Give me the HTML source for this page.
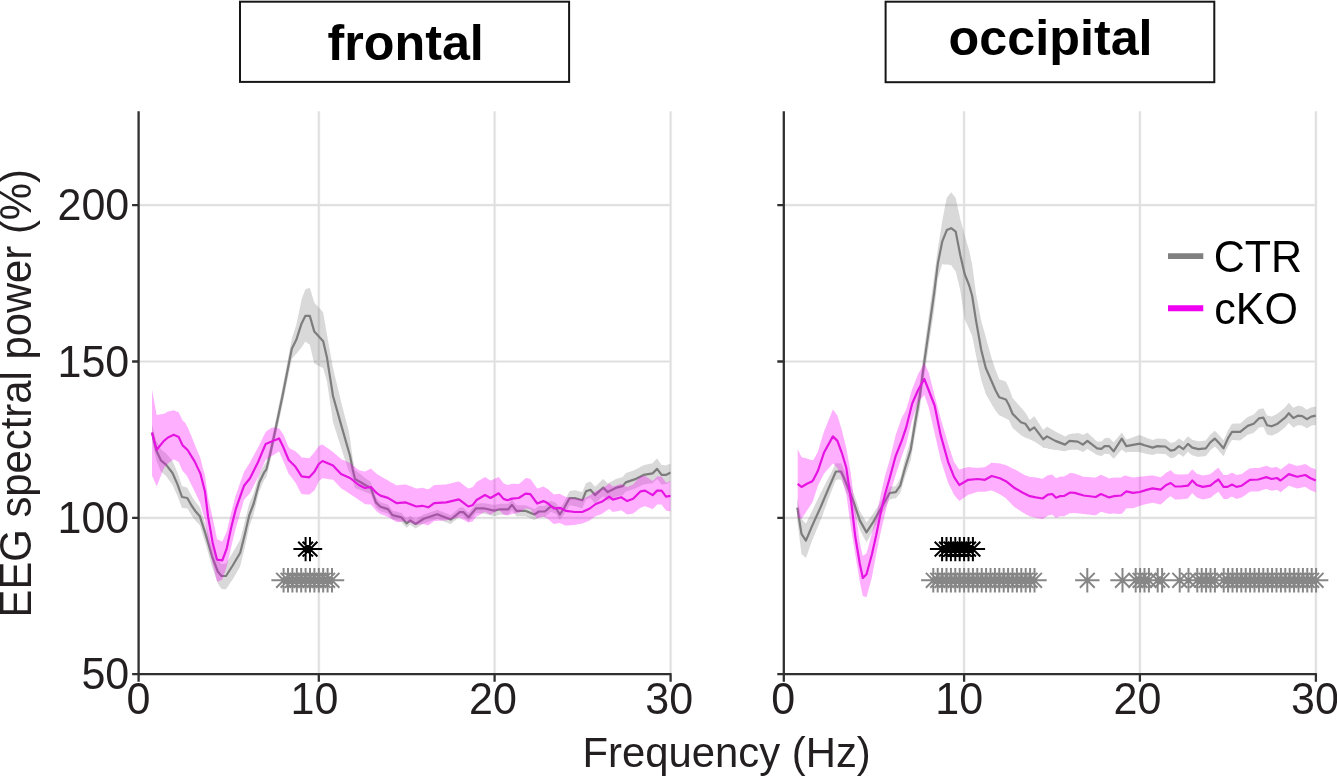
<!DOCTYPE html>
<html><head><meta charset="utf-8"><title>EEG spectral power</title>
<style>
html,body{margin:0;padding:0;background:#fff}
body{width:1337px;height:777px;overflow:hidden}
svg text{font-family:"Liberation Sans",sans-serif;fill:#231f20}
.l{fill:#000}
.b{font-weight:bold;fill:#000}
</style></head><body>
<svg width="1337" height="777" viewBox="0 0 1337 777" style="display:block">
<rect width="1337" height="777" fill="#fff"/>
<path d="M138.6 517.9H670.6M138.6 361.5H670.6M138.6 205.1H670.6M318.8 111.3V674.2M494.6 111.3V674.2M670.6 111.3V674.2" stroke="#000" stroke-opacity="0.04" stroke-width="3.2" fill="none"/>
<path d="M138.6 517.9H670.6M138.6 361.5H670.6M138.6 205.1H670.6M318.8 111.3V674.2M494.6 111.3V674.2M670.6 111.3V674.2" stroke="#000" stroke-opacity="0.09" stroke-width="1.7" fill="none"/>
<path d="M783.8 517.9H1315.9M783.8 361.5H1315.9M783.8 205.1H1315.9M964.1 111.3V674.2M1139.9 111.3V674.2M1315.9 111.3V674.2" stroke="#000" stroke-opacity="0.04" stroke-width="3.2" fill="none"/>
<path d="M783.8 517.9H1315.9M783.8 361.5H1315.9M783.8 205.1H1315.9M964.1 111.3V674.2M1139.9 111.3V674.2M1315.9 111.3V674.2" stroke="#000" stroke-opacity="0.09" stroke-width="1.7" fill="none"/>
<path d="M152.0 424.5 L153.5 430.2 L155.0 435.9 L156.3 440.9 L156.5 441.2 L158.0 443.9 L159.5 446.5 L160.9 449.2 L161.0 449.3 L162.5 450.5 L164.0 451.7 L165.5 452.8 L166.2 453.4 L167.0 454.4 L168.5 456.2 L170.0 458.1 L171.5 459.9 L172.5 461.2 L173.0 462.3 L174.5 465.6 L176.0 469.1 L177.5 472.7 L179.0 477.1 L180.5 481.5 L182.0 485.9 L183.5 486.4 L185.0 486.9 L186.5 487.4 L187.3 487.6 L188.0 489.0 L189.5 491.9 L191.0 494.7 L191.5 495.6 L192.5 497.2 L194.0 499.5 L195.3 501.5 L195.5 501.8 L197.0 503.7 L198.5 505.5 L199.8 507.2 L200.0 507.8 L201.5 512.3 L203.0 516.9 L204.5 521.4 L205.8 525.3 L206.0 526.0 L207.5 531.1 L209.0 536.1 L210.5 541.2 L211.8 545.5 L212.0 546.0 L213.5 549.7 L215.0 553.3 L216.5 557.0 L217.8 560.2 L218.0 560.4 L219.5 562.0 L221.0 563.6 L221.5 564.1 L222.5 564.0 L224.0 563.8 L225.5 563.7 L226.0 563.7 L227.0 562.0 L228.5 559.6 L230.0 557.1 L231.5 554.6 L232.7 552.7 L233.0 552.1 L234.5 549.5 L236.0 546.9 L237.5 544.4 L239.0 541.8 L240.2 539.8 L240.5 538.6 L242.0 532.6 L243.5 526.7 L244.7 521.9 L245.0 520.6 L246.5 514.5 L248.0 508.5 L249.2 503.7 L249.5 503.0 L251.0 499.4 L252.5 495.9 L253.7 493.1 L254.0 492.1 L255.5 486.9 L257.0 481.7 L258.5 476.5 L259.3 473.7 L260.0 472.4 L261.5 469.7 L263.0 467.0 L264.2 464.8 L264.5 464.4 L266.0 462.3 L266.4 461.7 L267.5 457.2 L269.0 451.0 L270.1 446.5 L270.5 444.6 L272.0 437.6 L273.5 430.6 L274.6 425.4 L275.0 423.5 L276.5 416.3 L278.0 409.0 L279.5 401.8 L281.0 394.5 L282.5 387.2 L284.0 379.5 L285.5 371.7 L287.0 363.9 L288.5 356.0 L290.0 348.2 L291.5 340.4 L291.8 338.8 L293.0 335.1 L294.5 330.4 L296.0 325.7 L296.3 324.8 L297.5 319.0 L299.0 311.9 L300.5 304.7 L301.6 299.4 L302.0 298.3 L303.5 294.3 L305.0 290.2 L305.3 289.4 L306.5 288.8 L308.0 288.4 L309.5 288.0 L309.8 287.9 L311.0 291.8 L312.5 296.7 L314.0 301.6 L314.3 302.6 L315.5 303.9 L317.0 305.5 L318.5 307.2 L320.0 308.8 L321.5 310.4 L323.0 312.1 L323.2 312.6 L324.5 320.2 L326.0 329.0 L327.0 334.8 L327.5 337.6 L329.0 345.9 L330.5 354.2 L332.0 362.5 L333.0 368.0 L333.5 370.1 L335.0 376.4 L336.5 382.6 L338.0 388.9 L339.5 395.1 L341.0 401.4 L342.5 407.2 L344.0 413.0 L345.5 418.8 L347.0 424.6 L348.5 430.4 L350.0 438.5 L351.5 450.0 L352.7 458.1 L353.0 459.7 L354.5 467.4 L355.0 470.0 L356.0 470.8 L357.5 472.0 L359.0 473.1 L360.5 474.3 L362.0 475.5 L363.5 476.7 L365.0 477.9 L366.5 479.0 L366.6 479.1 L368.0 480.0 L369.5 481.1 L370.8 482.0 L371.0 482.6 L372.5 487.1 L374.0 491.5 L375.5 496.0 L375.9 497.2 L377.0 498.5 L378.5 500.2 L380.0 501.9 L380.4 502.3 L381.5 502.6 L383.0 503.1 L384.5 503.6 L386.0 504.0 L387.5 504.5 L387.9 504.6 L389.0 506.1 L390.5 508.1 L392.0 510.1 L392.4 510.6 L393.5 510.9 L395.0 511.2 L396.5 511.6 L398.0 512.0 L399.5 512.4 L401.0 512.7 L401.3 512.8 L402.5 514.2 L404.0 515.9 L405.5 517.6 L406.6 518.8 L407.0 518.5 L408.5 517.3 L410.0 516.0 L410.3 515.8 L411.5 516.7 L413.0 517.7 L414.5 518.8 L415.5 519.5 L416.0 519.2 L417.5 518.2 L419.0 517.3 L420.5 516.4 L422.0 515.4 L423.5 514.5 L423.8 514.3 L425.0 513.9 L426.5 513.4 L428.0 512.9 L429.5 512.4 L431.0 511.9 L432.5 511.4 L434.0 510.9 L435.5 510.4 L437.0 509.9 L437.2 509.8 L438.5 510.3 L440.0 510.9 L441.5 511.5 L443.0 512.1 L444.5 512.7 L446.0 513.3 L447.5 513.8 L449.0 514.4 L450.5 515.0 L450.7 515.1 L452.0 514.0 L453.5 512.8 L455.0 511.5 L456.5 510.3 L458.0 509.0 L459.5 507.8 L459.7 507.6 L461.0 507.6 L462.5 507.6 L463.4 507.6 L464.0 508.2 L465.5 509.7 L467.0 511.2 L468.5 512.7 L468.6 512.8 L470.0 511.1 L471.5 509.2 L473.0 507.4 L474.5 505.5 L476.0 503.6 L476.1 503.5 L477.5 503.4 L479.0 503.4 L480.5 503.3 L482.0 503.2 L483.5 503.1 L483.6 503.1 L485.0 503.4 L486.5 503.6 L488.0 503.9 L489.5 504.1 L491.0 504.4 L492.5 504.7 L494.0 505.1 L494.1 505.1 L495.5 504.8 L497.0 504.5 L498.5 504.1 L500.0 503.8 L501.5 503.8 L503.0 503.8 L504.5 503.8 L506.0 503.8 L507.5 503.8 L508.2 503.8 L509.0 502.9 L510.5 501.1 L512.0 499.3 L513.5 501.3 L515.0 503.3 L516.5 505.3 L518.0 505.3 L519.5 505.3 L521.0 505.3 L522.5 505.3 L524.0 505.3 L525.4 505.3 L525.5 505.3 L527.0 506.0 L528.5 506.6 L530.0 507.2 L531.5 507.8 L533.0 508.4 L534.4 509.0 L534.5 508.9 L536.0 507.9 L537.5 506.9 L538.9 506.0 L539.0 506.0 L540.5 506.0 L542.0 506.0 L543.5 506.0 L544.9 506.0 L545.0 505.9 L546.5 504.6 L548.0 503.3 L549.5 502.0 L550.9 500.8 L551.0 500.8 L552.5 501.5 L554.0 502.1 L555.5 502.7 L556.1 503.0 L557.0 504.5 L558.5 506.9 L559.8 509.0 L560.0 508.7 L561.5 506.2 L563.0 503.7 L564.3 501.6 L564.5 501.2 L566.0 498.2 L567.5 495.2 L569.0 492.2 L569.6 491.0 L570.5 490.9 L572.0 490.6 L573.5 490.4 L574.8 490.1 L575.0 490.2 L576.5 490.6 L578.0 491.0 L579.5 491.4 L581.0 491.8 L582.3 492.2 L582.5 491.7 L584.0 488.0 L585.5 484.3 L586.0 483.1 L587.0 482.7 L588.5 482.2 L590.0 481.7 L590.5 481.5 L591.5 482.6 L593.0 484.4 L594.5 486.1 L595.0 486.7 L596.0 485.8 L597.5 484.4 L599.0 483.0 L600.5 481.6 L602.0 480.1 L603.2 479.0 L603.5 479.3 L605.0 480.8 L606.5 482.2 L607.7 483.4 L608.0 483.3 L609.5 482.5 L611.0 481.7 L612.5 480.9 L614.0 480.1 L615.5 479.3 L616.7 478.7 L617.0 478.6 L618.5 478.2 L620.0 477.8 L621.5 477.4 L622.7 477.0 L623.0 476.7 L624.5 474.8 L625.7 473.3 L626.0 473.1 L627.5 472.6 L629.0 472.1 L630.5 471.5 L632.0 471.0 L633.5 470.4 L634.6 470.0 L635.0 469.8 L636.5 469.0 L638.0 468.2 L639.5 467.5 L641.0 466.6 L642.5 465.8 L643.6 465.2 L644.0 465.1 L645.5 464.8 L647.0 464.4 L648.5 464.1 L650.0 463.7 L651.5 463.4 L652.6 463.2 L653.0 462.7 L654.5 461.1 L656.0 459.6 L657.1 458.4 L657.5 459.0 L659.0 461.2 L660.5 463.3 L661.6 464.9 L662.0 465.0 L663.5 465.1 L665.0 465.3 L666.0 465.4 L666.5 465.2 L668.0 464.6 L669.5 464.0 L670.5 463.6 L670.5 481.6 L669.5 482.2 L668.0 483.1 L666.5 483.9 L666.0 484.2 L665.0 484.3 L663.5 484.4 L662.0 484.5 L661.6 484.6 L660.5 483.2 L659.0 481.3 L657.5 479.4 L657.1 478.9 L656.0 480.0 L654.5 481.4 L653.0 482.9 L652.6 483.3 L651.5 483.4 L650.0 483.6 L648.5 483.8 L647.0 484.0 L645.5 484.2 L644.0 484.5 L643.6 484.5 L642.5 485.0 L641.0 485.7 L639.5 486.4 L638.0 487.1 L636.5 487.9 L635.0 488.6 L634.6 488.8 L633.5 489.1 L632.0 489.6 L630.5 490.0 L629.0 490.5 L627.5 491.0 L626.0 491.4 L625.7 491.5 L624.5 493.0 L623.0 494.8 L622.7 495.2 L621.5 495.4 L620.0 495.8 L618.5 496.1 L617.0 496.5 L616.7 496.5 L615.5 497.1 L614.0 497.8 L612.5 498.5 L611.0 499.2 L609.5 499.9 L608.0 500.7 L607.7 500.8 L606.5 499.6 L605.0 498.0 L603.5 496.5 L603.2 496.2 L602.0 497.2 L600.5 498.6 L599.0 499.9 L597.5 501.3 L596.0 502.6 L595.0 503.5 L594.5 502.9 L593.0 501.1 L591.5 499.3 L590.5 498.1 L590.0 498.3 L588.5 498.7 L587.0 499.2 L586.0 499.5 L585.5 500.7 L584.0 504.3 L582.5 508.0 L582.3 508.4 L581.0 508.0 L579.5 507.6 L578.0 507.1 L576.5 506.6 L575.0 506.2 L574.8 506.1 L573.5 505.9 L572.0 505.6 L570.5 505.4 L569.6 505.2 L569.0 506.2 L567.5 508.7 L566.0 511.2 L564.5 513.7 L564.3 514.0 L563.0 515.7 L561.5 517.7 L560.0 519.7 L559.8 520.0 L558.5 517.9 L557.0 515.5 L556.1 514.0 L555.5 513.7 L554.0 513.1 L552.5 512.5 L551.0 511.8 L550.9 511.8 L549.5 513.0 L548.0 514.3 L546.5 515.6 L545.0 516.9 L544.9 517.0 L543.5 517.0 L542.0 517.0 L540.5 517.0 L539.0 517.0 L538.9 517.0 L537.5 517.9 L536.0 518.9 L534.5 519.9 L534.4 520.0 L533.0 519.4 L531.5 518.8 L530.0 518.2 L528.5 517.6 L527.0 517.0 L525.5 516.3 L525.4 516.3 L524.0 516.3 L522.5 516.3 L521.0 516.3 L519.5 516.3 L518.0 516.3 L516.5 516.3 L515.0 514.3 L513.5 512.3 L512.0 510.3 L510.5 512.1 L509.0 513.9 L508.2 514.8 L507.5 514.8 L506.0 514.8 L504.5 514.8 L503.0 514.8 L501.5 514.8 L500.0 514.8 L498.5 515.1 L497.0 515.5 L495.5 515.8 L494.1 516.1 L494.0 516.1 L492.5 515.7 L491.0 515.4 L489.5 515.1 L488.0 514.7 L486.5 514.3 L485.0 513.9 L483.6 513.5 L483.5 513.5 L482.0 513.4 L480.5 513.3 L479.0 513.2 L477.5 513.2 L476.1 513.1 L476.0 513.2 L474.5 514.9 L473.0 516.7 L471.5 518.4 L470.0 520.1 L468.6 521.8 L468.5 521.7 L467.0 520.2 L465.5 518.7 L464.0 517.2 L463.4 516.6 L462.5 516.6 L461.0 516.6 L459.7 516.6 L459.5 516.8 L458.0 518.0 L456.5 519.3 L455.0 520.5 L453.5 521.8 L452.0 523.0 L450.7 524.1 L450.5 524.0 L449.0 523.4 L447.5 522.8 L446.0 522.3 L444.5 521.7 L443.0 521.1 L441.5 520.5 L440.0 519.9 L438.5 519.3 L437.2 518.8 L437.0 518.9 L435.5 519.4 L434.0 519.9 L432.5 520.4 L431.0 520.9 L429.5 521.4 L428.0 521.9 L426.5 522.4 L425.0 522.9 L423.8 523.3 L423.5 523.5 L422.0 524.4 L420.5 525.4 L419.0 526.3 L417.5 527.2 L416.0 528.2 L415.5 528.5 L414.5 527.8 L413.0 526.7 L411.5 525.7 L410.3 524.8 L410.0 525.0 L408.5 526.3 L407.0 527.5 L406.6 527.8 L405.5 526.6 L404.0 524.9 L402.5 523.2 L401.3 521.8 L401.0 521.7 L399.5 521.4 L398.0 521.0 L396.5 520.6 L395.0 520.2 L393.5 519.9 L392.4 519.6 L392.0 519.1 L390.5 517.1 L389.0 515.1 L387.9 513.6 L387.5 513.5 L386.0 513.0 L384.5 512.6 L383.0 512.1 L381.5 511.6 L380.4 511.3 L380.0 510.9 L378.5 509.7 L377.0 508.5 L375.9 507.6 L375.5 506.5 L374.0 502.5 L372.5 498.6 L371.0 494.6 L370.8 494.0 L369.5 493.6 L368.0 493.0 L366.6 492.5 L366.5 492.5 L365.0 491.9 L363.5 491.3 L362.0 490.7 L360.5 490.1 L359.0 489.5 L357.5 489.0 L356.0 488.4 L355.0 488.0 L354.5 486.4 L353.0 481.7 L352.7 480.7 L351.5 476.7 L350.0 473.1 L348.5 470.8 L347.0 466.1 L345.5 461.4 L344.0 456.7 L342.5 452.1 L341.0 447.4 L339.5 442.6 L338.0 437.9 L336.5 433.1 L335.0 428.4 L333.5 423.6 L333.0 422.0 L332.0 415.3 L330.5 405.2 L329.0 395.2 L327.5 385.2 L327.0 381.8 L326.0 378.2 L324.5 372.8 L323.2 368.2 L323.0 368.1 L321.5 367.3 L320.0 366.5 L318.5 365.7 L317.0 364.9 L315.5 364.1 L314.3 363.4 L314.0 362.6 L312.5 356.2 L311.0 349.8 L309.8 344.8 L309.5 344.5 L308.0 343.4 L306.5 342.3 L305.3 341.6 L305.0 342.1 L303.5 344.4 L302.0 346.8 L301.6 347.4 L300.5 348.7 L299.0 350.5 L297.5 352.4 L296.3 353.8 L296.0 354.1 L294.5 355.8 L293.0 357.5 L291.8 358.8 L291.5 360.3 L290.0 367.7 L288.5 375.1 L287.0 382.5 L285.5 389.8 L284.0 397.3 L282.5 404.8 L281.0 411.7 L279.5 418.7 L278.0 425.6 L276.5 432.6 L275.0 439.5 L274.6 441.4 L273.5 446.4 L272.0 453.3 L270.5 460.2 L270.1 462.1 L269.0 466.5 L267.5 472.5 L266.4 476.9 L266.0 477.4 L264.5 479.4 L264.2 479.8 L263.0 482.6 L261.5 486.1 L260.0 489.7 L259.3 491.3 L258.5 494.5 L257.0 500.6 L255.5 506.6 L254.0 512.7 L253.7 513.9 L252.5 517.4 L251.0 521.8 L249.5 526.3 L249.2 527.1 L248.0 532.7 L246.5 539.6 L245.0 546.6 L244.7 547.9 L243.5 552.8 L242.0 558.9 L240.5 565.1 L240.2 566.3 L239.0 568.4 L237.5 571.1 L236.0 573.8 L234.5 576.4 L233.0 578.8 L232.7 579.3 L231.5 581.1 L230.0 583.3 L228.5 585.6 L227.0 587.8 L226.0 589.3 L225.5 589.3 L224.0 589.2 L222.5 589.0 L221.5 588.9 L221.0 588.1 L219.5 585.9 L218.0 583.7 L217.8 583.5 L216.5 579.7 L215.0 575.4 L213.5 571.1 L212.0 566.8 L211.8 566.2 L210.5 561.4 L209.0 555.9 L207.5 550.6 L206.0 545.2 L205.8 544.5 L204.5 540.3 L203.0 535.5 L201.5 530.6 L200.0 525.8 L199.8 525.2 L198.5 523.8 L197.0 522.3 L195.5 520.7 L195.3 520.5 L194.0 518.7 L192.5 516.7 L191.5 515.4 L191.0 514.5 L189.5 512.0 L188.0 509.5 L187.3 508.4 L186.5 508.3 L185.0 508.2 L183.5 508.1 L182.0 508.1 L180.5 504.1 L179.0 500.1 L177.5 496.1 L176.0 492.8 L174.5 489.5 L173.0 486.0 L172.5 484.8 L171.5 483.5 L170.0 481.4 L168.5 479.4 L167.0 477.3 L166.2 476.2 L165.5 475.6 L164.0 474.2 L162.5 472.8 L161.0 471.5 L160.9 471.4 L159.5 468.1 L158.0 464.4 L156.5 460.6 L156.3 460.1 L155.0 454.2 L153.5 447.3 L152.0 440.5Z" fill="#808080" fill-opacity="0.3"/>
<path d="M152.0 432.5 L156.3 450.5 L160.9 460.3 L166.2 464.8 L172.5 473.0 L177.5 484.4 L182.0 497.0 L187.3 498.0 L191.5 505.5 L195.3 511.0 L199.8 516.2 L205.8 534.9 L211.8 555.8 L217.8 571.5 L221.5 576.0 L226.0 576.0 L232.7 565.5 L240.2 552.8 L244.7 534.9 L249.2 515.4 L253.7 503.5 L259.3 482.5 L264.2 472.3 L266.4 469.3 L270.1 454.3 L274.6 433.4 L282.5 396.0 L291.8 348.8 L296.3 339.8 L301.6 323.4 L305.3 315.9 L309.8 315.9 L314.3 331.6 L323.2 341.3 L327.0 357.8 L333.0 396.0 L341.0 424.4 L350.0 455.8 L352.7 469.4 L355.0 479.0 L366.6 485.8 L370.8 488.0 L375.9 502.4 L380.4 506.8 L387.9 509.1 L392.4 515.1 L401.3 517.3 L406.6 523.3 L410.3 520.3 L415.5 524.0 L423.8 518.8 L437.2 514.3 L450.7 519.6 L459.7 512.1 L463.4 512.1 L468.6 517.3 L476.1 508.3 L483.6 508.3 L494.1 510.6 L500.0 509.3 L508.2 509.3 L512.0 504.8 L516.5 510.8 L525.4 510.8 L534.4 514.5 L538.9 511.5 L544.9 511.5 L550.9 506.3 L556.1 508.5 L559.8 514.5 L564.3 507.8 L569.6 498.1 L574.8 498.1 L582.3 500.3 L586.0 491.3 L590.5 489.8 L595.0 495.1 L603.2 487.6 L607.7 492.1 L616.7 487.6 L622.7 486.1 L625.7 482.4 L634.6 479.4 L643.6 474.9 L652.6 473.4 L657.1 468.9 L661.6 474.9 L666.0 474.9 L670.5 472.6" stroke="#7d7d7d" stroke-width="2.2" fill="none" stroke-linejoin="round"/>
<path d="M152.0 389.6 L153.5 397.8 L155.0 405.9 L156.5 414.1 L156.7 415.0 L158.0 414.8 L159.5 414.5 L161.0 414.3 L162.5 414.0 L163.9 413.8 L164.0 413.8 L165.5 412.9 L167.0 412.1 L168.0 411.5 L168.5 411.4 L170.0 411.1 L171.5 410.7 L173.0 410.4 L173.7 410.2 L174.5 410.6 L176.0 411.2 L177.5 411.8 L178.7 412.3 L179.0 412.9 L180.5 416.1 L182.0 419.2 L182.6 420.5 L183.5 421.3 L185.0 422.6 L186.5 425.2 L187.6 427.1 L188.0 428.1 L189.5 431.7 L191.0 435.3 L192.5 439.0 L194.0 442.6 L194.6 444.1 L195.5 446.4 L197.0 449.9 L198.5 453.5 L200.0 457.0 L200.4 458.0 L201.5 462.6 L203.0 468.8 L204.5 473.6 L205.0 475.2 L206.0 482.6 L207.5 493.4 L208.1 497.5 L209.0 501.5 L210.5 508.1 L212.0 514.8 L212.6 517.4 L213.5 521.8 L215.0 529.1 L216.5 536.4 L217.0 538.8 L218.0 539.8 L219.5 540.3 L221.0 540.9 L222.3 541.4 L222.5 541.0 L224.0 537.6 L225.5 534.2 L226.8 531.3 L227.0 530.4 L228.5 524.0 L230.0 517.6 L231.2 512.4 L231.5 511.3 L233.0 505.5 L234.5 499.8 L235.7 495.2 L236.0 494.4 L237.5 490.2 L238.7 486.7 L239.0 485.9 L240.5 481.6 L242.0 477.4 L243.5 473.2 L244.0 471.8 L245.0 470.2 L246.5 467.9 L248.0 465.6 L249.5 463.2 L250.0 462.5 L251.0 460.4 L252.5 457.6 L254.0 454.9 L255.5 452.1 L257.0 449.4 L258.2 447.2 L258.5 446.5 L260.0 443.4 L261.5 440.4 L263.0 437.3 L264.5 434.3 L265.7 431.9 L266.0 431.7 L267.5 430.6 L269.0 429.6 L270.5 428.5 L271.6 427.7 L272.0 427.4 L273.5 427.6 L275.0 427.8 L276.5 428.0 L278.0 428.2 L279.1 428.4 L279.5 429.0 L281.0 431.1 L282.5 433.2 L283.4 434.4 L284.0 435.8 L285.5 439.5 L287.0 443.2 L288.5 446.8 L288.7 447.3 L290.0 448.5 L291.5 449.2 L293.0 450.0 L294.5 450.8 L295.5 451.2 L296.0 451.7 L297.5 453.2 L299.0 454.6 L300.5 456.0 L301.6 457.4 L302.0 457.4 L303.5 457.6 L305.0 457.8 L306.5 458.0 L308.0 458.1 L309.3 458.3 L309.5 458.1 L311.0 456.3 L312.5 454.5 L314.0 452.7 L314.6 451.9 L315.5 450.5 L317.0 448.5 L318.5 446.4 L318.8 446.0 L320.0 445.5 L321.5 444.8 L322.5 444.4 L323.0 444.8 L324.5 445.9 L326.0 447.0 L327.5 448.1 L329.0 449.1 L330.5 450.2 L332.0 451.3 L333.0 452.0 L333.5 452.4 L335.0 453.7 L336.5 455.0 L338.0 456.2 L339.5 457.5 L341.0 459.0 L342.5 459.7 L344.0 460.3 L345.5 461.0 L347.0 461.7 L348.5 462.3 L350.0 463.0 L351.5 464.2 L353.0 465.4 L354.5 466.5 L356.0 467.7 L357.5 468.9 L358.9 470.0 L359.0 470.1 L360.5 470.6 L362.0 470.9 L363.5 471.2 L364.9 471.4 L365.0 471.4 L366.5 470.7 L368.0 469.9 L369.5 469.2 L370.9 468.5 L371.0 468.6 L372.5 470.0 L374.0 471.4 L375.5 472.8 L376.8 474.1 L377.0 474.2 L378.5 475.0 L380.0 475.8 L380.4 476.2 L381.5 476.8 L383.0 477.6 L384.5 478.5 L386.0 479.3 L387.5 480.1 L387.9 480.3 L389.0 481.3 L390.5 482.1 L392.0 482.9 L393.5 483.6 L395.0 484.4 L396.5 485.2 L396.8 485.4 L398.0 485.2 L399.5 485.0 L401.0 484.8 L402.5 484.7 L404.0 484.6 L405.5 484.4 L405.8 484.4 L407.0 484.9 L408.5 485.5 L410.0 486.0 L411.5 486.6 L413.0 487.2 L414.5 487.8 L416.0 488.4 L416.3 488.5 L417.5 488.4 L419.0 488.2 L420.5 488.0 L422.0 487.8 L422.3 487.8 L423.5 488.1 L425.0 488.5 L426.5 488.9 L428.0 489.2 L428.3 489.3 L429.5 488.4 L431.0 487.4 L432.5 486.3 L434.0 485.2 L434.2 485.1 L435.5 485.0 L437.0 484.9 L438.5 484.8 L440.0 484.8 L441.5 484.7 L443.0 484.6 L444.5 484.5 L446.0 484.4 L446.2 484.4 L447.5 484.1 L449.0 483.7 L450.5 483.4 L452.0 483.0 L453.5 482.7 L455.0 482.3 L456.5 482.0 L458.0 481.6 L458.9 481.4 L459.5 481.8 L461.0 483.0 L462.5 484.1 L463.6 484.9 L464.0 485.2 L465.5 486.4 L467.0 487.5 L468.3 488.5 L468.5 488.4 L470.0 488.0 L471.5 487.5 L472.6 487.2 L473.0 486.7 L474.5 484.7 L476.0 482.8 L476.6 482.0 L477.5 481.5 L479.0 480.6 L480.5 479.7 L482.0 478.8 L483.5 477.9 L485.0 477.0 L486.5 478.0 L488.0 479.0 L489.5 480.0 L490.5 480.6 L491.0 480.4 L492.5 479.7 L494.0 479.0 L495.5 478.3 L497.0 477.7 L498.5 477.0 L498.7 476.9 L500.0 478.6 L501.5 480.6 L503.0 482.5 L503.5 483.2 L504.5 483.7 L506.0 484.3 L507.5 484.9 L509.0 484.6 L510.5 484.2 L512.0 483.8 L513.5 483.8 L515.0 483.8 L516.5 483.9 L518.0 483.9 L518.8 483.9 L519.5 483.5 L521.0 482.3 L522.5 481.0 L524.0 479.6 L525.5 478.3 L527.0 478.1 L528.5 478.4 L530.0 478.7 L530.3 478.7 L531.5 480.4 L533.0 482.5 L534.5 484.7 L536.0 486.8 L537.2 488.5 L537.5 488.4 L539.0 487.9 L540.5 487.4 L542.0 487.0 L543.4 486.5 L543.5 486.6 L545.0 487.4 L546.5 488.2 L547.9 489.0 L548.0 489.1 L549.5 490.5 L551.0 491.9 L552.5 493.3 L553.9 494.5 L554.0 494.5 L555.5 494.3 L557.0 494.1 L558.5 494.0 L559.8 493.8 L560.0 493.9 L561.5 494.7 L563.0 495.4 L564.5 496.2 L565.8 496.8 L566.0 496.9 L567.5 497.2 L569.0 497.5 L570.5 497.8 L572.0 498.0 L573.5 498.3 L574.8 498.6 L575.0 498.6 L576.5 498.7 L578.0 498.8 L579.5 498.9 L581.0 498.9 L582.3 499.0 L582.5 498.9 L584.0 498.2 L585.5 497.5 L587.0 496.8 L588.5 496.1 L589.8 495.5 L590.0 495.3 L591.5 494.2 L593.0 493.1 L594.5 491.9 L595.7 491.0 L596.0 490.9 L597.5 490.3 L599.0 489.8 L600.5 489.2 L601.7 488.8 L602.0 488.6 L603.5 487.6 L605.0 486.5 L606.5 485.5 L608.0 484.4 L609.2 483.6 L609.5 483.8 L611.0 485.1 L612.5 486.3 L612.9 486.6 L614.0 486.3 L615.5 485.8 L617.0 485.2 L618.5 484.7 L620.0 484.2 L621.2 483.7 L621.5 483.9 L623.0 484.7 L624.5 485.6 L626.0 486.4 L627.2 487.1 L627.5 486.9 L629.0 486.3 L630.5 485.6 L632.0 484.9 L633.1 484.4 L633.5 483.9 L635.0 482.3 L636.5 480.7 L638.0 479.1 L639.5 477.5 L640.6 476.3 L641.0 476.3 L642.5 476.2 L644.0 476.1 L645.1 476.0 L645.5 476.2 L647.0 477.3 L648.5 478.3 L650.0 479.3 L651.5 480.3 L652.6 481.1 L653.0 480.7 L654.5 479.2 L656.0 477.7 L657.1 476.6 L657.5 476.6 L659.0 476.6 L660.5 476.6 L661.6 476.6 L662.0 477.1 L663.5 479.2 L665.0 481.2 L666.0 482.6 L666.5 482.5 L668.0 482.0 L669.5 481.6 L670.5 481.3 L670.5 511.5 L669.5 511.3 L668.0 511.0 L666.5 510.7 L666.0 510.6 L665.0 509.2 L663.5 507.2 L662.0 505.1 L661.6 504.6 L660.5 504.6 L659.0 504.6 L657.5 504.6 L657.1 504.6 L656.0 505.7 L654.5 507.2 L653.0 508.7 L652.6 509.1 L651.5 508.7 L650.0 508.1 L648.5 507.5 L647.0 506.9 L645.5 506.3 L645.1 506.2 L644.0 506.6 L642.5 507.1 L641.0 507.7 L640.6 507.8 L639.5 508.6 L638.0 509.8 L636.5 511.0 L635.0 512.1 L633.5 513.3 L633.1 513.6 L632.0 513.8 L630.5 514.0 L629.0 514.3 L627.5 514.5 L627.2 514.5 L626.0 513.7 L624.5 512.6 L623.0 511.6 L621.5 510.5 L621.2 510.3 L620.0 510.5 L618.5 510.9 L617.0 511.2 L615.5 511.5 L614.0 511.8 L612.9 512.1 L612.5 511.7 L611.0 510.5 L609.5 509.2 L609.2 509.0 L608.0 509.8 L606.5 510.8 L605.0 511.8 L603.5 512.8 L602.0 513.8 L601.7 514.0 L600.5 514.4 L599.0 514.9 L597.5 515.4 L596.0 516.0 L595.7 516.1 L594.5 517.0 L593.0 518.1 L591.5 519.1 L590.0 520.2 L589.8 520.4 L588.5 520.9 L587.0 521.5 L585.5 522.2 L584.0 522.8 L582.5 523.4 L582.3 523.5 L581.0 523.7 L579.5 524.0 L578.0 524.3 L576.5 524.6 L575.0 524.9 L574.8 525.0 L573.5 525.1 L572.0 525.2 L570.5 525.3 L569.0 525.4 L567.5 525.5 L566.0 525.6 L565.8 525.6 L564.5 525.2 L563.0 524.5 L561.5 523.8 L560.0 523.2 L559.8 523.1 L558.5 523.3 L557.0 523.6 L555.5 523.8 L554.0 524.1 L553.9 524.1 L552.5 523.0 L551.0 521.7 L549.5 520.3 L548.0 519.0 L547.9 518.9 L546.5 518.2 L545.0 517.4 L543.5 516.6 L543.4 516.6 L542.0 517.1 L540.5 517.6 L539.0 518.1 L537.5 518.7 L537.2 518.8 L536.0 517.1 L534.5 515.1 L533.0 513.0 L531.5 510.9 L530.3 509.3 L530.0 509.2 L528.5 509.0 L527.0 508.8 L525.5 508.6 L524.0 509.6 L522.5 510.6 L521.0 511.6 L519.5 512.6 L518.8 513.0 L518.0 513.1 L516.5 513.3 L515.0 513.5 L513.5 513.7 L512.0 513.9 L510.5 514.5 L509.0 515.0 L507.5 515.6 L506.0 515.2 L504.5 514.8 L503.5 514.6 L503.0 514.1 L501.5 512.6 L500.0 511.0 L498.7 509.7 L498.5 509.8 L497.0 510.8 L495.5 511.7 L494.0 512.6 L492.5 513.6 L491.0 514.5 L490.5 514.8 L489.5 514.3 L488.0 513.5 L486.5 512.8 L485.0 512.0 L483.5 512.8 L482.0 513.6 L480.5 514.4 L479.0 515.2 L477.5 516.0 L476.6 516.5 L476.0 517.3 L474.5 519.1 L473.0 521.0 L472.6 521.5 L471.5 521.7 L470.0 522.1 L468.5 522.5 L468.3 522.5 L467.0 521.7 L465.5 520.9 L464.0 520.1 L463.6 519.9 L462.5 519.3 L461.0 518.5 L459.5 517.7 L458.9 517.4 L458.0 517.6 L456.5 518.0 L455.0 518.3 L453.5 518.7 L452.0 519.0 L450.5 519.4 L449.0 519.7 L447.5 520.1 L446.2 520.4 L446.0 520.4 L444.5 520.5 L443.0 520.6 L441.5 520.7 L440.0 520.8 L438.5 520.8 L437.0 520.9 L435.5 521.0 L434.2 521.1 L434.0 521.2 L432.5 522.3 L431.0 523.4 L429.5 524.5 L428.3 525.4 L428.0 525.3 L426.5 525.0 L425.0 524.6 L423.5 524.3 L422.3 524.1 L422.0 524.1 L420.5 524.3 L419.0 524.6 L417.5 524.8 L416.3 525.0 L416.0 524.8 L414.5 524.3 L413.0 523.8 L411.5 523.2 L410.0 522.7 L408.5 522.2 L407.0 521.6 L405.8 521.2 L405.5 521.2 L404.0 521.4 L402.5 521.6 L401.0 521.8 L399.5 522.0 L398.0 522.1 L396.8 522.2 L396.5 522.0 L395.0 521.1 L393.5 520.2 L392.0 519.3 L390.5 518.4 L389.0 517.6 L387.9 516.8 L387.5 516.7 L386.0 516.2 L384.5 515.6 L383.0 515.1 L381.5 514.5 L380.4 514.1 L380.0 513.8 L378.5 512.7 L377.0 511.5 L376.8 511.4 L375.5 509.9 L374.0 508.2 L372.5 506.4 L371.0 504.7 L370.9 504.6 L369.5 504.5 L368.0 504.4 L366.5 504.3 L365.0 504.2 L364.9 504.2 L363.5 503.1 L362.0 502.0 L360.5 500.9 L359.0 500.2 L358.9 500.1 L357.5 499.1 L356.0 498.1 L354.5 497.1 L353.0 496.1 L351.5 495.0 L350.0 494.0 L348.5 493.0 L347.0 492.1 L345.5 491.1 L344.0 490.1 L342.5 489.2 L341.0 488.2 L339.5 486.4 L338.0 484.9 L336.5 483.4 L335.0 481.8 L333.5 480.3 L333.0 479.8 L332.0 479.6 L330.5 479.4 L329.0 479.2 L327.5 478.9 L326.0 478.7 L324.5 478.5 L323.0 478.2 L322.5 478.0 L321.5 478.9 L320.0 480.2 L318.8 481.3 L318.5 482.0 L317.0 485.3 L315.5 488.6 L314.6 490.3 L314.0 490.8 L312.5 492.0 L311.0 493.2 L309.5 494.5 L309.3 494.7 L308.0 494.6 L306.5 494.5 L305.0 494.4 L303.5 494.2 L302.0 494.1 L301.6 494.1 L300.5 492.2 L299.0 489.4 L297.5 486.5 L296.0 483.7 L295.5 482.8 L294.5 481.4 L293.0 479.4 L291.5 477.4 L290.0 475.4 L288.7 474.0 L288.5 473.5 L287.0 469.9 L285.5 466.3 L284.0 462.7 L283.4 461.3 L282.5 459.2 L281.0 455.8 L279.5 452.3 L279.1 451.4 L278.0 452.1 L276.5 453.0 L275.0 454.0 L273.5 454.9 L272.0 455.8 L271.6 456.1 L270.5 456.8 L269.0 457.8 L267.5 458.7 L266.0 459.7 L265.7 459.9 L264.5 462.6 L263.0 465.9 L261.5 469.3 L260.0 472.7 L258.5 476.1 L258.2 476.8 L257.0 479.2 L255.5 482.2 L254.0 485.3 L252.5 488.3 L251.0 491.3 L250.0 493.2 L249.5 493.8 L248.0 495.4 L246.5 497.1 L245.0 498.7 L244.0 499.8 L243.5 501.6 L242.0 506.9 L240.5 512.1 L239.0 517.4 L238.7 518.5 L237.5 522.8 L236.0 527.6 L235.7 528.5 L234.5 533.4 L233.0 539.5 L231.5 545.7 L231.2 546.9 L230.0 552.2 L228.5 558.8 L227.0 565.4 L226.8 566.3 L225.5 570.2 L224.0 574.6 L222.5 579.1 L222.3 579.7 L221.0 580.2 L219.5 580.9 L218.0 581.6 L217.0 581.4 L216.5 579.4 L215.0 573.2 L213.5 567.1 L212.6 563.4 L212.0 560.5 L210.5 553.4 L209.0 546.2 L208.1 541.9 L207.5 537.6 L206.0 526.8 L205.0 519.7 L204.5 518.2 L203.0 513.8 L201.5 507.9 L200.4 503.6 L200.0 502.8 L198.5 499.6 L197.0 496.4 L195.5 493.3 L194.6 491.2 L194.0 490.0 L192.5 487.0 L191.0 483.9 L189.5 480.9 L188.0 477.9 L187.6 477.0 L186.5 475.6 L185.0 473.6 L183.5 472.0 L182.6 471.1 L182.0 469.7 L180.5 466.3 L179.0 462.8 L178.7 462.1 L177.5 461.4 L176.0 460.6 L174.5 459.7 L173.7 459.4 L173.0 459.9 L171.5 461.0 L170.0 462.1 L168.5 463.1 L168.0 463.5 L167.0 464.6 L165.5 466.2 L164.0 467.8 L163.9 468.0 L162.5 471.6 L161.0 475.5 L159.5 479.3 L158.0 483.2 L156.7 486.5 L156.5 486.1 L155.0 482.6 L153.5 479.1 L152.0 475.6Z" fill="#fb00fb" fill-opacity="0.31"/>
<path d="M152.0 432.6 L156.7 449.8 L163.9 440.9 L168.0 437.5 L173.7 434.8 L178.7 437.0 L182.6 445.4 L187.6 450.0 L194.6 461.4 L200.4 473.6 L205.0 491.7 L208.1 516.9 L212.6 542.4 L217.0 559.6 L222.3 560.3 L226.8 548.3 L231.2 527.4 L235.7 509.4 L238.7 500.7 L244.0 485.8 L250.0 478.3 L258.2 461.8 L265.7 443.9 L271.6 441.6 L279.1 438.4 L283.4 447.3 L288.7 460.0 L295.5 466.8 L301.6 476.4 L309.3 477.3 L314.6 471.4 L318.8 464.0 L322.5 461.0 L333.0 465.6 L341.0 474.0 L350.0 478.0 L358.9 485.0 L364.9 488.0 L370.9 487.0 L376.8 493.2 L380.4 495.6 L387.9 497.9 L396.8 503.2 L405.8 502.4 L416.3 506.5 L422.3 505.8 L428.3 507.3 L434.2 503.1 L446.2 502.4 L458.9 499.4 L463.6 502.9 L468.3 506.5 L472.6 505.2 L476.6 500.0 L485.0 495.0 L490.5 498.0 L498.7 493.3 L503.5 498.9 L507.5 500.2 L512.0 498.6 L518.8 498.0 L525.5 493.6 L530.3 494.2 L537.2 503.5 L543.4 501.1 L547.9 503.3 L553.9 508.5 L559.8 507.8 L565.8 510.8 L574.8 512.0 L582.3 512.0 L589.8 508.5 L595.7 504.0 L601.7 501.8 L609.2 496.6 L612.9 499.6 L621.2 497.3 L627.2 501.1 L633.1 498.8 L640.6 491.3 L645.1 490.6 L652.6 495.1 L657.1 490.6 L661.6 490.6 L666.0 496.6 L670.5 495.8" stroke="#e614e2" stroke-width="2.2" fill="none" stroke-linejoin="round"/>
<path d="M797.3 497.7 L798.8 505.3 L800.3 512.8 L801.5 518.9 L801.8 519.2 L803.3 520.8 L804.8 522.4 L805.9 523.6 L806.3 522.8 L807.8 519.7 L809.3 516.7 L810.8 513.6 L811.9 511.4 L812.3 510.6 L813.8 507.4 L815.3 504.3 L816.8 501.1 L818.3 498.0 L819.8 494.8 L820.9 492.5 L821.3 491.7 L822.8 488.8 L824.3 485.9 L825.8 483.0 L827.3 480.1 L828.4 478.0 L828.8 477.3 L830.3 474.4 L831.8 471.4 L833.3 468.3 L834.8 465.2 L835.9 463.0 L836.3 463.1 L837.8 463.4 L839.3 463.4 L840.8 463.3 L841.1 463.3 L842.3 465.9 L843.8 469.2 L844.8 471.4 L845.3 472.6 L846.8 476.3 L848.3 479.9 L849.3 482.3 L849.8 483.6 L851.3 487.3 L852.8 491.0 L853.8 493.5 L854.3 494.9 L855.8 499.3 L857.3 503.7 L858.8 508.1 L859.8 511.0 L860.3 511.8 L861.8 514.4 L863.3 516.9 L864.8 519.5 L866.3 522.1 L866.5 522.5 L867.8 520.8 L869.3 518.8 L870.8 516.8 L872.3 514.8 L873.3 513.5 L873.8 512.7 L875.3 510.3 L876.8 508.0 L878.3 505.6 L879.2 504.2 L879.8 503.3 L881.3 500.8 L882.8 498.3 L884.3 495.7 L885.8 493.2 L887.3 490.7 L888.8 488.2 L889.7 486.6 L890.3 486.6 L891.8 486.5 L893.3 486.4 L894.8 486.3 L895.7 486.0 L896.3 485.0 L897.8 482.4 L899.3 479.8 L900.2 478.2 L900.8 475.9 L902.3 470.0 L903.8 464.0 L904.7 460.5 L905.3 458.3 L906.8 453.0 L908.3 447.7 L909.8 442.3 L910.7 439.1 L911.3 435.3 L912.8 425.6 L914.3 416.0 L915.1 410.9 L915.8 406.8 L917.3 398.0 L918.8 389.3 L919.6 384.6 L920.3 379.1 L921.8 367.4 L923.3 355.7 L924.3 347.9 L924.8 344.3 L926.3 333.4 L927.8 322.4 L929.3 311.4 L930.3 304.1 L930.8 300.5 L932.3 289.5 L933.8 278.6 L934.3 275.2 L935.3 267.6 L936.8 256.3 L937.8 248.8 L938.3 245.7 L939.8 236.4 L941.3 227.1 L942.3 220.5 L942.8 217.9 L944.3 210.2 L945.8 202.5 L946.8 197.8 L947.3 197.2 L948.8 195.3 L950.3 193.4 L951.2 192.2 L951.8 193.0 L953.3 194.9 L954.8 196.8 L955.7 198.0 L956.3 200.8 L957.8 207.7 L959.3 214.6 L960.2 218.8 L960.8 221.0 L962.3 226.5 L963.8 231.9 L964.7 235.2 L965.3 237.3 L966.8 242.5 L968.3 247.6 L969.2 250.7 L969.8 253.4 L971.3 260.4 L972.2 264.6 L972.8 269.2 L974.3 280.7 L975.8 292.1 L975.9 292.9 L977.3 300.3 L978.8 308.2 L980.3 316.1 L981.2 320.8 L981.8 322.9 L983.3 328.3 L984.8 333.6 L985.7 336.8 L986.3 339.0 L987.8 344.4 L989.3 349.9 L990.8 355.3 L991.6 358.2 L992.3 360.3 L993.8 364.7 L995.3 369.2 L995.4 369.5 L996.8 373.1 L998.3 377.0 L999.2 379.3 L999.8 379.5 L1001.3 380.0 L1002.8 380.5 L1004.3 381.0 L1005.8 381.5 L1005.9 381.5 L1007.3 384.5 L1008.8 387.8 L1008.9 388.0 L1010.3 391.7 L1011.8 395.8 L1012.6 397.9 L1013.3 398.7 L1014.8 400.4 L1016.3 402.2 L1017.8 403.9 L1019.3 405.6 L1020.8 407.4 L1020.9 407.5 L1022.3 409.1 L1023.8 410.7 L1025.3 412.4 L1026.8 414.9 L1028.3 417.4 L1029.8 419.9 L1031.3 418.7 L1032.8 417.4 L1034.3 416.2 L1035.8 418.5 L1037.3 420.8 L1038.8 423.1 L1040.3 425.4 L1041.8 427.8 L1043.3 430.0 L1044.8 428.6 L1046.3 427.3 L1047.0 426.6 L1047.8 427.0 L1049.3 427.9 L1050.8 428.8 L1052.3 429.7 L1053.8 430.6 L1055.3 431.5 L1056.8 432.3 L1058.3 433.0 L1059.8 433.8 L1061.3 434.5 L1062.8 435.3 L1064.3 436.0 L1065.0 436.4 L1065.8 436.0 L1067.3 435.2 L1068.8 434.5 L1069.5 434.1 L1070.3 434.0 L1071.8 433.8 L1073.3 433.6 L1074.8 433.4 L1076.3 433.2 L1077.7 433.0 L1077.8 433.0 L1079.3 433.5 L1080.8 434.1 L1082.3 434.6 L1082.9 435.0 L1083.8 434.5 L1085.3 433.7 L1086.8 432.9 L1087.4 432.6 L1088.3 433.4 L1089.8 434.8 L1091.3 436.2 L1092.8 437.6 L1094.3 439.0 L1095.8 440.4 L1097.1 441.6 L1097.3 441.6 L1098.8 441.5 L1100.3 441.5 L1101.6 441.5 L1101.8 441.2 L1103.3 439.7 L1104.6 438.3 L1104.8 438.3 L1106.3 438.1 L1107.8 437.9 L1109.1 437.7 L1109.3 437.9 L1110.8 439.4 L1112.3 441.0 L1113.6 442.3 L1113.8 442.1 L1115.3 440.3 L1116.8 438.5 L1118.3 436.7 L1119.8 435.0 L1121.3 433.2 L1121.8 432.6 L1122.8 434.2 L1124.3 436.5 L1125.8 438.8 L1126.3 439.6 L1127.3 439.3 L1128.8 438.7 L1130.3 438.2 L1131.8 437.7 L1133.3 437.2 L1134.8 436.6 L1136.3 436.1 L1137.8 435.6 L1139.3 435.1 L1139.8 434.9 L1140.8 435.4 L1142.3 436.0 L1143.8 436.7 L1144.5 437.0 L1145.3 437.3 L1146.8 437.9 L1148.3 438.5 L1149.8 439.0 L1151.3 439.6 L1152.7 440.1 L1152.8 440.1 L1154.3 439.6 L1155.8 439.0 L1157.2 438.6 L1157.3 438.6 L1158.8 438.6 L1160.3 438.7 L1161.8 438.8 L1163.3 438.8 L1164.8 438.9 L1165.4 438.9 L1166.3 439.6 L1167.8 440.8 L1169.3 441.9 L1170.7 443.0 L1170.8 443.0 L1172.3 442.6 L1173.8 442.3 L1174.4 442.2 L1175.3 441.4 L1176.8 440.2 L1178.3 438.9 L1178.9 438.4 L1179.8 439.0 L1181.3 440.0 L1182.8 441.0 L1183.4 441.4 L1184.3 440.4 L1185.8 438.6 L1187.3 436.9 L1187.9 436.2 L1188.8 436.9 L1190.3 438.2 L1191.8 439.4 L1192.3 439.8 L1193.3 440.1 L1194.8 440.5 L1196.3 440.8 L1197.8 441.2 L1198.3 441.3 L1199.3 441.2 L1200.8 441.0 L1202.3 440.9 L1203.8 440.7 L1205.3 440.5 L1205.8 440.5 L1206.8 439.1 L1208.3 437.2 L1209.8 435.2 L1210.3 434.5 L1211.3 433.7 L1212.8 432.4 L1214.3 431.1 L1214.8 430.7 L1215.8 431.7 L1217.3 433.2 L1218.5 434.5 L1218.8 434.8 L1220.3 436.6 L1221.8 438.3 L1223.3 440.1 L1223.5 440.3 L1224.8 437.5 L1226.3 434.1 L1227.8 430.8 L1228.2 429.9 L1229.3 428.2 L1230.8 425.8 L1232.0 423.8 L1232.3 423.8 L1233.8 423.7 L1235.3 423.6 L1236.8 423.6 L1238.3 423.5 L1239.8 423.4 L1240.2 423.4 L1241.3 422.5 L1242.8 421.2 L1244.3 419.9 L1245.8 418.6 L1247.3 417.4 L1247.7 417.0 L1248.8 416.6 L1250.3 415.9 L1251.8 415.3 L1253.3 414.7 L1253.7 414.6 L1254.8 413.4 L1256.3 411.8 L1257.8 410.2 L1258.9 409.1 L1259.3 409.0 L1260.8 408.7 L1262.3 408.4 L1263.4 408.2 L1263.8 409.0 L1265.3 412.0 L1266.8 414.9 L1267.1 415.5 L1268.3 415.8 L1269.8 416.1 L1271.3 416.4 L1271.6 416.5 L1272.8 415.9 L1274.3 415.2 L1275.8 414.5 L1277.3 413.8 L1277.6 413.6 L1278.8 412.6 L1280.3 411.4 L1281.8 410.1 L1283.3 408.9 L1284.8 407.6 L1285.1 407.3 L1286.3 405.8 L1287.8 404.0 L1288.8 402.7 L1289.3 403.3 L1290.8 405.0 L1292.3 406.7 L1293.3 407.8 L1293.8 407.6 L1295.3 406.9 L1296.8 406.2 L1297.8 405.7 L1298.3 405.8 L1299.8 406.0 L1301.3 406.3 L1302.3 406.4 L1302.8 406.8 L1304.3 407.9 L1305.8 409.0 L1306.8 409.7 L1307.3 409.4 L1308.8 408.6 L1310.3 407.9 L1311.3 407.3 L1311.8 407.3 L1313.3 407.1 L1314.8 406.8 L1315.8 406.7 L1315.8 424.7 L1314.8 424.9 L1313.3 425.3 L1311.8 425.6 L1311.3 425.7 L1310.3 426.3 L1308.8 427.2 L1307.3 428.1 L1306.8 428.4 L1305.8 427.8 L1304.3 426.8 L1302.8 425.9 L1302.3 425.6 L1301.3 425.5 L1299.8 425.3 L1298.3 425.2 L1297.8 425.2 L1296.8 425.7 L1295.3 426.6 L1293.8 427.4 L1293.3 427.7 L1292.3 426.6 L1290.8 425.0 L1289.3 423.4 L1288.8 422.9 L1287.8 424.1 L1286.3 425.9 L1285.1 427.3 L1284.8 427.6 L1283.3 428.7 L1281.8 429.9 L1280.3 431.1 L1278.8 432.3 L1277.6 433.2 L1277.3 433.3 L1275.8 433.9 L1274.3 434.6 L1272.8 435.2 L1271.6 435.7 L1271.3 435.6 L1269.8 435.2 L1268.3 434.8 L1267.1 434.5 L1266.8 433.9 L1265.3 430.8 L1263.8 427.8 L1263.4 426.9 L1262.3 427.1 L1260.8 427.3 L1259.3 427.5 L1258.9 427.6 L1257.8 428.7 L1256.3 430.2 L1254.8 431.7 L1253.7 432.8 L1253.3 432.9 L1251.8 433.4 L1250.3 434.0 L1248.8 434.4 L1247.7 434.8 L1247.3 435.1 L1245.8 436.2 L1244.3 437.3 L1242.8 438.5 L1241.3 439.6 L1240.2 440.4 L1239.8 440.4 L1238.3 440.3 L1236.8 440.2 L1235.3 440.2 L1233.8 440.1 L1232.3 440.0 L1232.0 440.0 L1230.8 441.8 L1229.3 444.2 L1228.2 445.9 L1227.8 446.8 L1226.3 450.1 L1224.8 453.4 L1223.5 456.3 L1223.3 456.0 L1221.8 454.2 L1220.3 452.5 L1218.8 450.7 L1218.5 450.3 L1217.3 449.1 L1215.8 447.5 L1214.8 446.5 L1214.3 446.9 L1212.8 448.2 L1211.3 449.4 L1210.3 450.3 L1209.8 450.9 L1208.3 452.9 L1206.8 454.8 L1205.8 456.1 L1205.3 456.2 L1203.8 456.3 L1202.3 456.5 L1200.8 456.6 L1199.3 456.8 L1198.3 456.9 L1197.8 456.8 L1196.3 456.4 L1194.8 456.0 L1193.3 455.6 L1192.3 455.4 L1191.8 454.9 L1190.3 453.7 L1188.8 452.4 L1187.9 451.6 L1187.3 452.3 L1185.8 454.0 L1184.3 455.8 L1183.4 456.8 L1182.8 456.4 L1181.3 455.4 L1179.8 454.4 L1178.9 453.8 L1178.3 454.3 L1176.8 455.5 L1175.3 456.7 L1174.4 457.4 L1173.8 457.6 L1172.3 457.9 L1170.8 458.2 L1170.7 458.2 L1169.3 457.1 L1167.8 456.0 L1166.3 454.8 L1165.4 454.1 L1164.8 454.1 L1163.3 454.0 L1161.8 453.9 L1160.3 453.8 L1158.8 453.7 L1157.3 453.6 L1157.2 453.6 L1155.8 454.1 L1154.3 454.6 L1152.8 455.1 L1152.7 455.1 L1151.3 454.8 L1149.8 454.5 L1148.3 454.2 L1146.8 453.9 L1145.3 453.6 L1144.5 453.4 L1143.8 453.2 L1142.3 452.8 L1140.8 452.4 L1139.8 452.1 L1139.3 452.1 L1137.8 452.1 L1136.3 452.1 L1134.8 452.0 L1133.3 452.0 L1131.8 452.0 L1130.3 452.0 L1128.8 452.0 L1127.3 452.0 L1126.3 452.8 L1125.8 452.4 L1124.3 451.4 L1122.8 450.3 L1121.8 449.6 L1121.3 450.2 L1119.8 451.8 L1118.3 453.5 L1116.8 455.2 L1115.3 456.9 L1113.8 458.6 L1113.6 458.8 L1112.3 457.4 L1110.8 455.8 L1109.3 454.2 L1109.1 454.0 L1107.8 454.1 L1106.3 453.9 L1104.8 453.8 L1104.6 453.7 L1103.3 454.7 L1101.8 455.9 L1101.6 456.1 L1100.3 455.8 L1098.8 455.4 L1097.3 455.0 L1097.1 455.0 L1095.8 454.2 L1094.3 453.2 L1092.8 452.3 L1091.3 451.4 L1089.8 450.4 L1088.3 449.5 L1087.4 448.9 L1086.8 449.3 L1085.3 450.4 L1083.8 451.5 L1082.9 452.1 L1082.3 451.8 L1080.8 451.1 L1079.3 450.4 L1077.8 449.7 L1077.7 449.7 L1076.3 449.7 L1074.8 449.7 L1073.3 449.8 L1071.8 449.8 L1070.3 449.9 L1069.5 449.9 L1068.8 450.1 L1067.3 450.6 L1065.8 451.1 L1065.0 451.3 L1064.3 451.2 L1062.8 451.0 L1061.3 450.8 L1059.8 450.5 L1058.3 450.3 L1056.8 450.1 L1055.3 449.9 L1053.8 449.7 L1052.3 449.4 L1050.8 449.2 L1049.3 449.0 L1047.8 448.7 L1047.0 448.0 L1046.3 448.0 L1044.8 448.0 L1043.3 448.0 L1041.8 446.6 L1040.3 445.5 L1038.8 444.5 L1037.3 443.5 L1035.8 442.4 L1034.3 441.4 L1032.8 440.7 L1031.3 440.1 L1029.8 439.4 L1028.3 438.8 L1026.8 438.3 L1025.3 437.7 L1023.8 436.8 L1022.3 436.0 L1020.9 435.2 L1020.8 435.1 L1019.3 433.8 L1017.8 432.5 L1016.3 431.2 L1014.8 429.8 L1013.3 428.5 L1012.6 427.9 L1011.8 426.2 L1010.3 423.0 L1008.9 420.0 L1008.8 419.9 L1007.3 419.2 L1005.9 418.5 L1005.8 418.5 L1004.3 417.7 L1002.8 417.0 L1001.3 416.3 L999.8 415.6 L999.2 415.3 L998.3 414.2 L996.8 412.3 L995.4 410.5 L995.3 410.3 L993.8 407.8 L992.3 405.4 L991.6 404.2 L990.8 402.8 L989.3 400.1 L987.8 397.5 L986.3 394.9 L985.7 393.8 L984.8 391.0 L983.3 386.3 L981.8 381.7 L981.2 379.8 L980.3 375.6 L978.8 368.5 L977.3 361.5 L975.9 354.9 L975.8 354.4 L974.3 346.7 L972.8 339.1 L972.2 336.0 L971.3 334.1 L969.8 330.7 L969.2 328.8 L968.3 326.9 L966.8 323.7 L965.3 320.5 L964.7 319.2 L963.8 313.3 L962.3 303.5 L960.8 293.7 L960.2 289.8 L959.3 286.2 L957.8 280.1 L956.3 274.0 L955.7 271.6 L954.8 270.3 L953.3 268.2 L951.8 266.1 L951.2 265.2 L950.3 265.0 L948.8 264.7 L947.3 264.4 L946.8 264.3 L945.8 264.7 L944.3 264.5 L942.8 264.2 L942.3 264.1 L941.3 267.1 L939.8 272.1 L938.3 277.1 L937.8 278.8 L936.8 287.4 L935.3 300.3 L934.3 308.8 L933.8 312.4 L932.3 322.4 L930.8 332.3 L930.3 335.7 L929.3 342.3 L927.8 352.3 L926.3 362.3 L924.8 372.3 L924.3 375.7 L923.3 383.1 L921.8 394.1 L920.3 405.2 L919.6 410.4 L918.8 414.8 L917.3 422.9 L915.8 431.1 L915.1 434.9 L914.3 439.6 L912.8 448.3 L911.3 457.0 L910.7 460.5 L909.8 463.1 L908.3 467.5 L906.8 472.0 L905.3 476.4 L904.7 478.1 L903.8 481.1 L902.3 486.1 L900.8 491.2 L900.2 493.2 L899.3 494.2 L897.8 496.0 L896.3 497.7 L895.7 498.4 L894.8 498.3 L893.3 498.6 L891.8 498.9 L890.3 499.2 L889.7 499.4 L888.8 501.0 L887.3 503.7 L885.8 506.4 L884.3 509.2 L882.8 511.9 L881.3 514.6 L879.8 517.4 L879.2 518.6 L878.3 520.4 L876.8 523.4 L875.3 526.3 L873.8 529.3 L873.3 530.3 L872.3 532.1 L870.8 534.7 L869.3 537.4 L867.8 540.0 L866.5 542.3 L866.3 542.0 L864.8 539.2 L863.3 536.4 L861.8 533.6 L860.3 530.8 L859.8 529.8 L858.8 526.7 L857.3 522.1 L855.8 517.5 L854.3 512.9 L853.8 511.3 L852.8 508.7 L851.3 504.8 L849.8 501.0 L849.3 499.7 L848.3 497.1 L846.8 493.3 L845.3 489.5 L844.8 488.2 L843.8 485.9 L842.3 482.4 L841.1 479.7 L840.8 479.7 L839.3 479.6 L837.8 479.6 L836.3 479.9 L835.9 480.0 L834.8 482.8 L833.3 486.6 L831.8 490.5 L830.3 494.3 L828.8 498.2 L828.4 499.2 L827.3 502.2 L825.8 506.3 L824.3 510.3 L822.8 514.4 L821.3 518.4 L820.9 519.5 L819.8 522.1 L818.3 525.7 L816.8 529.3 L815.3 532.9 L813.8 536.5 L812.3 540.0 L811.9 541.0 L810.8 544.1 L809.3 548.4 L807.8 552.7 L806.3 557.0 L805.9 558.1 L804.8 557.0 L803.3 555.6 L801.8 554.2 L801.5 553.9 L800.3 544.4 L798.8 532.6 L797.3 520.7Z" fill="#808080" fill-opacity="0.3"/>
<path d="M797.3 507.7 L801.5 533.9 L805.9 540.6 L811.9 526.4 L820.9 506.5 L828.4 488.7 L835.9 471.5 L841.1 471.5 L844.8 479.8 L849.3 491.0 L853.8 502.4 L859.8 520.4 L866.5 532.4 L873.3 521.9 L879.2 511.4 L889.7 493.0 L895.7 492.2 L900.2 485.7 L904.7 469.3 L910.7 449.8 L915.1 422.9 L919.6 397.5 L924.3 361.8 L930.3 319.9 L934.3 292.0 L937.8 263.8 L942.3 241.3 L946.8 230.1 L951.2 228.2 L955.7 231.6 L960.2 254.8 L964.7 274.2 L969.2 285.5 L972.2 296.0 L975.9 319.9 L981.2 349.8 L985.7 367.8 L991.6 381.2 L995.4 390.0 L999.2 397.3 L1005.9 399.5 L1008.9 405.0 L1012.6 413.9 L1020.9 422.2 L1025.3 423.7 L1029.8 430.4 L1034.3 427.4 L1043.3 439.4 L1047.0 436.4 L1055.3 440.9 L1065.0 444.6 L1069.5 440.9 L1077.7 441.6 L1082.9 444.6 L1087.4 440.9 L1097.1 448.3 L1101.6 448.8 L1104.6 446.1 L1109.1 446.1 L1113.6 451.3 L1121.8 438.6 L1126.3 446.1 L1139.8 443.6 L1144.5 445.3 L1152.7 447.6 L1157.2 446.1 L1165.4 446.5 L1170.7 450.6 L1174.4 449.8 L1178.9 446.1 L1183.4 449.1 L1187.9 443.9 L1192.3 447.6 L1198.3 449.1 L1205.8 448.3 L1210.3 442.4 L1214.8 438.6 L1218.5 442.4 L1223.5 448.3 L1228.2 437.9 L1232.0 431.9 L1240.2 431.9 L1247.7 425.9 L1253.7 423.7 L1258.9 418.4 L1263.4 417.7 L1267.1 425.2 L1271.6 426.3 L1277.6 423.7 L1285.1 417.7 L1288.8 413.2 L1293.3 418.1 L1297.8 415.7 L1302.3 416.2 L1306.8 419.2 L1311.3 416.6 L1315.8 415.7" stroke="#7d7d7d" stroke-width="2.2" fill="none" stroke-linejoin="round"/>
<path d="M797.7 449.3 L799.2 452.3 L800.7 455.4 L801.5 457.0 L802.2 457.2 L803.7 457.7 L805.2 458.1 L806.7 458.6 L807.4 458.8 L808.2 459.1 L809.7 459.6 L811.2 460.1 L811.9 460.3 L812.7 460.0 L813.4 459.8 L814.2 458.4 L815.7 455.7 L817.2 453.0 L817.9 451.8 L818.7 449.1 L820.2 444.1 L821.7 439.1 L823.2 434.1 L823.9 431.8 L824.7 429.8 L826.2 426.1 L827.7 422.3 L829.2 418.6 L830.7 414.9 L832.2 411.1 L832.9 409.4 L833.7 410.5 L835.2 412.5 L836.7 414.6 L837.4 415.5 L838.2 418.1 L839.7 423.0 L841.2 427.9 L841.8 429.8 L842.7 433.4 L844.2 439.4 L845.7 445.4 L846.3 447.8 L847.2 452.9 L848.7 461.5 L850.2 470.1 L850.8 473.5 L851.7 480.8 L853.2 492.9 L854.7 505.0 L855.3 509.8 L856.2 516.4 L857.7 527.4 L859.2 538.4 L859.8 542.8 L860.7 546.8 L862.2 553.4 L862.8 556.0 L863.7 555.3 L865.2 554.2 L866.5 553.2 L866.7 552.5 L868.2 547.0 L869.7 541.5 L871.2 536.0 L871.8 533.8 L872.7 530.2 L874.2 524.3 L875.7 518.3 L876.2 516.3 L877.2 511.5 L878.7 504.4 L880.2 497.3 L880.7 494.9 L881.7 490.5 L883.2 483.8 L884.7 477.2 L885.2 475.0 L886.2 471.7 L887.7 466.7 L889.2 461.8 L889.3 461.5 L890.7 455.8 L892.2 449.5 L893.7 443.2 L895.2 436.9 L895.7 434.8 L896.7 432.0 L898.2 427.8 L899.7 423.5 L901.2 419.3 L901.7 417.9 L902.7 416.0 L904.2 413.2 L905.7 410.3 L906.2 409.4 L907.2 406.0 L908.7 400.9 L910.2 395.8 L911.7 390.7 L912.2 389.0 L913.2 386.5 L914.7 382.6 L916.2 378.8 L917.7 375.0 L918.1 374.0 L919.2 372.0 L920.7 369.4 L922.2 366.7 L923.7 364.1 L924.3 363.0 L925.2 364.9 L926.7 368.0 L928.2 371.2 L928.6 372.0 L929.7 376.3 L931.2 382.2 L932.7 388.1 L934.2 393.9 L934.6 395.5 L935.7 399.6 L937.2 405.2 L938.7 410.8 L940.2 416.4 L940.6 417.9 L941.7 421.7 L943.2 426.9 L944.7 432.1 L946.2 437.2 L947.7 442.4 L948.1 443.8 L949.2 447.2 L950.7 451.7 L952.2 456.3 L953.7 460.9 L954.0 461.8 L955.2 463.5 L956.7 465.7 L958.2 467.9 L959.3 469.5 L959.7 469.4 L961.2 469.0 L962.7 468.5 L964.2 468.1 L965.7 467.7 L967.2 467.3 L968.2 467.0 L968.7 467.1 L970.2 467.2 L971.7 467.4 L973.2 467.5 L974.7 467.7 L976.2 467.8 L977.7 468.0 L978.0 468.0 L979.2 467.8 L980.7 467.6 L982.2 467.4 L983.7 467.2 L985.0 467.0 L985.2 466.9 L986.7 465.9 L988.2 464.9 L989.7 463.9 L991.2 463.0 L991.7 462.6 L992.7 462.8 L994.2 462.9 L995.7 463.0 L997.2 463.2 L998.7 463.3 L999.9 463.4 L1000.2 463.5 L1001.7 464.0 L1003.2 464.4 L1004.7 464.8 L1005.9 465.1 L1006.2 465.2 L1007.7 466.0 L1009.2 466.8 L1010.7 467.5 L1012.2 468.3 L1013.4 468.9 L1013.7 469.0 L1015.2 469.6 L1016.7 470.4 L1018.2 471.3 L1019.7 472.2 L1021.2 473.1 L1022.4 473.8 L1022.7 474.0 L1024.2 474.7 L1025.7 475.4 L1027.2 476.0 L1028.7 476.5 L1029.8 476.9 L1030.2 477.0 L1031.7 477.1 L1033.2 477.2 L1034.7 477.3 L1035.8 477.4 L1036.2 477.5 L1037.7 477.8 L1039.2 478.1 L1040.7 478.4 L1042.2 478.8 L1042.6 478.8 L1043.7 478.1 L1045.2 477.1 L1046.7 476.0 L1047.8 475.3 L1048.2 475.2 L1049.7 475.0 L1051.2 474.8 L1052.3 474.6 L1052.7 475.0 L1054.2 476.5 L1055.7 478.0 L1056.0 478.3 L1057.2 477.8 L1058.7 477.2 L1059.8 476.8 L1060.2 476.8 L1061.7 476.6 L1063.2 476.5 L1064.2 476.4 L1064.7 476.1 L1066.2 475.3 L1067.7 474.4 L1069.2 473.5 L1070.2 472.9 L1070.7 473.0 L1072.2 473.1 L1073.7 473.4 L1074.7 473.5 L1075.2 473.7 L1076.7 474.3 L1078.2 474.8 L1079.7 475.3 L1081.2 475.9 L1082.7 476.4 L1083.7 476.8 L1084.2 476.8 L1085.7 476.9 L1087.2 477.0 L1088.7 477.1 L1090.2 477.2 L1091.7 477.3 L1093.2 477.4 L1094.7 477.5 L1095.7 477.6 L1096.2 477.3 L1097.7 476.4 L1099.2 475.6 L1100.7 474.8 L1100.9 474.7 L1102.2 475.3 L1103.7 475.9 L1105.2 476.6 L1106.7 477.3 L1108.2 478.0 L1109.1 478.4 L1109.7 478.3 L1111.2 478.0 L1112.7 477.7 L1113.6 477.5 L1114.2 477.5 L1115.7 477.5 L1117.2 477.5 L1118.7 477.4 L1120.2 477.4 L1121.1 477.4 L1121.7 477.0 L1123.2 476.2 L1124.7 475.8 L1126.2 475.5 L1126.3 475.5 L1127.7 476.2 L1129.2 476.6 L1130.7 477.0 L1132.2 477.3 L1133.0 477.5 L1133.7 477.5 L1135.2 477.3 L1136.7 477.1 L1138.2 477.0 L1139.7 476.8 L1139.8 476.8 L1141.2 476.6 L1142.7 476.4 L1144.2 476.2 L1145.7 476.0 L1146.5 475.9 L1147.2 475.8 L1148.7 475.7 L1150.2 475.6 L1151.7 475.5 L1152.5 475.4 L1153.2 475.6 L1154.7 475.9 L1156.2 476.2 L1157.7 476.6 L1159.2 476.9 L1160.7 477.2 L1162.2 476.1 L1163.7 474.9 L1165.2 473.6 L1166.2 472.6 L1166.7 472.4 L1168.2 471.6 L1169.7 470.8 L1170.7 470.3 L1171.2 470.8 L1172.7 472.1 L1174.2 473.4 L1175.1 474.1 L1175.7 474.2 L1177.2 474.3 L1178.7 474.4 L1180.2 474.5 L1180.4 474.5 L1181.7 474.5 L1183.2 474.4 L1184.7 474.3 L1186.2 474.3 L1187.7 474.2 L1187.9 474.2 L1189.2 472.8 L1190.7 471.1 L1192.2 469.4 L1192.3 469.3 L1193.7 470.7 L1195.2 472.1 L1196.7 473.6 L1196.8 473.7 L1198.2 474.1 L1199.7 474.6 L1201.2 475.0 L1202.7 475.4 L1202.8 475.5 L1204.2 475.2 L1205.7 474.9 L1207.2 474.7 L1208.7 474.4 L1210.2 474.1 L1210.3 474.1 L1211.7 472.9 L1213.2 471.7 L1214.7 470.4 L1214.8 470.3 L1216.2 469.3 L1217.7 468.3 L1218.5 467.7 L1219.2 468.8 L1220.7 471.0 L1222.2 473.1 L1223.5 475.0 L1223.7 475.0 L1225.2 475.0 L1226.7 475.0 L1227.5 475.0 L1228.2 474.6 L1229.7 473.7 L1231.2 473.0 L1232.0 472.5 L1232.7 472.9 L1234.2 473.8 L1235.7 474.6 L1236.5 475.0 L1237.2 474.9 L1238.7 474.6 L1240.2 474.3 L1241.7 473.9 L1243.2 472.9 L1244.7 471.8 L1246.2 470.8 L1247.7 469.7 L1249.2 468.7 L1249.9 468.2 L1250.7 468.2 L1252.2 468.2 L1253.7 468.1 L1255.2 468.1 L1256.7 468.1 L1258.2 468.1 L1259.7 467.7 L1261.2 467.3 L1262.7 466.8 L1264.2 466.4 L1265.7 466.0 L1266.4 465.8 L1267.2 466.1 L1268.7 466.7 L1270.2 467.3 L1271.6 467.8 L1271.7 467.8 L1273.2 467.6 L1274.7 467.3 L1276.2 467.1 L1276.9 467.0 L1277.7 467.5 L1279.2 468.6 L1280.6 469.5 L1280.7 469.5 L1282.2 468.3 L1283.7 467.2 L1285.2 466.0 L1286.7 464.9 L1288.2 463.8 L1288.8 463.3 L1289.7 463.6 L1291.2 464.1 L1292.7 464.5 L1294.2 465.0 L1295.7 465.5 L1297.1 465.9 L1297.2 465.9 L1298.7 465.6 L1300.2 465.2 L1301.7 464.9 L1303.2 464.6 L1304.7 464.2 L1305.3 464.1 L1306.2 464.6 L1307.7 465.6 L1309.2 466.5 L1310.5 467.3 L1310.7 467.4 L1312.2 468.0 L1313.7 468.6 L1315.2 469.3 L1315.8 469.5 L1315.8 492.5 L1315.2 492.2 L1313.7 491.6 L1312.2 491.0 L1310.7 490.3 L1310.5 490.2 L1309.2 489.4 L1307.7 488.4 L1306.2 487.5 L1305.3 486.9 L1304.7 487.0 L1303.2 487.3 L1301.7 487.6 L1300.2 487.9 L1298.7 488.3 L1297.2 488.6 L1297.1 488.6 L1295.7 488.1 L1294.2 487.6 L1292.7 487.1 L1291.2 486.6 L1289.7 486.1 L1288.8 485.8 L1288.2 486.3 L1286.7 487.5 L1285.2 488.6 L1283.7 489.8 L1282.2 491.0 L1280.7 492.2 L1280.6 492.2 L1279.2 491.3 L1277.7 490.3 L1276.9 489.8 L1276.2 489.9 L1274.7 490.2 L1273.2 490.5 L1271.7 490.8 L1271.6 490.8 L1270.2 490.3 L1268.7 489.7 L1267.2 489.2 L1266.4 488.9 L1265.7 489.1 L1264.2 489.6 L1262.7 490.0 L1261.2 490.5 L1259.7 490.9 L1258.2 491.4 L1256.7 491.4 L1255.2 491.5 L1253.7 491.5 L1252.2 491.6 L1250.7 491.7 L1249.9 491.7 L1249.2 492.2 L1247.7 493.3 L1246.2 494.4 L1244.7 495.5 L1243.2 496.6 L1241.7 497.6 L1240.2 498.0 L1238.7 498.3 L1237.2 498.7 L1236.5 498.9 L1235.7 498.4 L1234.2 497.7 L1232.7 496.9 L1232.0 496.5 L1231.2 496.9 L1229.7 497.7 L1228.2 498.6 L1227.5 498.9 L1226.7 499.0 L1225.2 499.0 L1223.7 499.0 L1223.5 499.0 L1222.2 497.1 L1220.7 494.9 L1219.2 492.7 L1218.5 491.7 L1217.7 492.3 L1216.2 493.3 L1214.8 494.3 L1214.7 494.4 L1213.2 495.6 L1211.7 496.9 L1210.3 498.1 L1210.2 498.1 L1208.7 498.3 L1207.2 498.6 L1205.7 498.9 L1204.2 499.2 L1202.8 499.4 L1202.7 499.4 L1201.2 498.9 L1199.7 498.5 L1198.2 498.0 L1196.8 497.6 L1196.7 497.5 L1195.2 496.0 L1193.7 494.6 L1192.3 493.2 L1192.2 493.3 L1190.7 495.1 L1189.2 496.9 L1187.9 498.5 L1187.7 498.5 L1186.2 498.7 L1184.7 498.9 L1183.2 499.1 L1181.7 499.3 L1180.4 499.5 L1180.2 499.5 L1178.7 499.6 L1177.2 499.6 L1175.7 499.6 L1175.1 499.7 L1174.2 499.0 L1172.7 497.8 L1171.2 496.7 L1170.7 496.3 L1169.7 496.8 L1168.2 498.0 L1166.7 499.1 L1166.2 499.5 L1165.2 500.6 L1163.7 502.1 L1162.2 503.3 L1160.7 504.5 L1159.2 504.2 L1157.7 503.9 L1156.2 503.6 L1154.7 503.3 L1153.2 502.9 L1152.5 502.8 L1151.7 503.0 L1150.2 503.3 L1148.7 503.6 L1147.2 503.9 L1146.5 504.0 L1145.7 504.2 L1144.2 504.6 L1142.7 505.0 L1141.2 505.4 L1139.8 505.8 L1139.7 505.8 L1138.2 506.4 L1136.7 506.9 L1135.2 507.4 L1133.7 508.0 L1133.0 508.2 L1132.2 508.2 L1130.7 508.2 L1129.2 508.2 L1127.7 508.2 L1126.3 508.4 L1126.2 508.5 L1124.7 510.4 L1123.2 512.4 L1121.7 513.7 L1121.1 514.1 L1120.2 514.0 L1118.7 513.9 L1117.2 513.8 L1115.7 513.7 L1114.2 513.6 L1113.6 513.5 L1112.7 513.6 L1111.2 513.8 L1109.7 513.9 L1109.1 514.0 L1108.2 513.8 L1106.7 513.3 L1105.2 512.9 L1103.7 512.5 L1102.2 512.1 L1100.9 511.8 L1100.7 511.9 L1099.2 513.0 L1097.7 514.0 L1096.2 515.0 L1095.7 515.3 L1094.7 515.2 L1093.2 515.0 L1091.7 514.9 L1090.2 514.7 L1088.7 514.5 L1087.2 514.4 L1085.7 514.2 L1084.2 514.1 L1083.7 514.0 L1082.7 513.9 L1081.2 513.7 L1079.7 513.6 L1078.2 513.4 L1076.7 513.3 L1075.2 513.1 L1074.7 513.0 L1073.7 513.1 L1072.2 513.3 L1070.7 513.2 L1070.2 513.1 L1069.2 513.6 L1067.7 514.4 L1066.2 515.1 L1064.7 515.9 L1064.2 516.2 L1063.2 516.2 L1061.7 516.2 L1060.2 516.2 L1059.8 516.2 L1058.7 516.7 L1057.2 517.4 L1056.0 518.0 L1055.7 517.7 L1054.2 516.4 L1052.7 515.0 L1052.3 514.6 L1051.2 514.9 L1049.7 515.2 L1048.2 515.6 L1047.8 515.7 L1046.7 516.4 L1045.2 517.5 L1043.7 518.5 L1042.6 519.2 L1042.2 519.2 L1040.7 518.8 L1039.2 518.5 L1037.7 518.2 L1036.2 517.9 L1035.8 517.8 L1034.7 517.5 L1033.2 517.2 L1031.7 516.8 L1030.2 516.5 L1029.8 516.4 L1028.7 515.8 L1027.2 515.0 L1025.7 514.2 L1024.2 513.3 L1022.7 512.5 L1022.4 512.3 L1021.2 511.5 L1019.7 510.5 L1018.2 509.5 L1016.7 508.6 L1015.2 507.6 L1013.7 506.4 L1013.4 506.1 L1012.2 504.9 L1010.7 503.3 L1009.2 501.7 L1007.7 500.2 L1006.2 498.6 L1005.9 498.3 L1004.7 497.4 L1003.2 496.4 L1001.7 495.4 L1000.2 494.4 L999.9 494.2 L998.7 493.7 L997.2 493.0 L995.7 492.3 L994.2 491.6 L992.7 490.9 L991.7 490.4 L991.2 490.5 L989.7 490.8 L988.2 491.1 L986.7 491.4 L985.2 491.8 L985.0 491.8 L983.7 491.8 L982.2 491.8 L980.7 491.7 L979.2 491.7 L978.0 491.7 L977.7 491.8 L976.2 492.3 L974.7 492.7 L973.2 493.2 L971.7 493.7 L970.2 494.2 L968.7 494.6 L968.2 494.8 L967.2 495.5 L965.7 496.5 L964.2 497.6 L962.7 498.6 L961.2 499.7 L959.7 500.7 L959.3 501.0 L958.2 499.7 L956.7 498.0 L955.2 496.2 L954.0 494.8 L953.7 494.2 L952.2 491.1 L950.7 488.1 L949.2 485.0 L948.1 482.8 L947.7 481.6 L946.2 476.9 L944.7 472.2 L943.2 467.6 L941.7 462.9 L940.6 459.5 L940.2 457.7 L938.7 451.1 L937.2 444.5 L935.7 437.9 L934.6 433.0 L934.2 431.3 L932.7 424.8 L931.2 418.3 L929.7 411.8 L928.6 407.0 L928.2 405.9 L926.7 401.7 L925.2 397.5 L924.3 395.0 L923.7 395.7 L922.2 397.4 L920.7 399.1 L919.2 400.8 L918.1 402.0 L917.7 403.2 L916.2 407.8 L914.7 412.3 L913.2 416.9 L912.2 419.9 L911.7 421.9 L910.2 427.9 L908.7 434.0 L907.2 440.0 L906.2 444.0 L905.7 445.4 L904.2 449.7 L902.7 454.0 L901.7 456.9 L901.2 458.4 L899.7 462.9 L898.2 467.3 L896.7 471.8 L895.7 474.8 L895.2 476.5 L893.7 481.5 L892.2 486.6 L890.7 491.6 L889.3 496.7 L889.2 497.1 L887.7 503.0 L886.2 509.0 L885.2 512.9 L884.7 515.1 L883.2 521.6 L881.7 528.1 L880.7 532.4 L880.2 534.8 L878.7 542.1 L877.2 549.4 L876.2 554.3 L875.7 557.0 L874.2 565.0 L872.7 573.0 L871.8 577.8 L871.2 580.0 L869.7 585.5 L868.2 591.0 L866.7 596.5 L866.5 597.2 L865.2 596.8 L863.7 596.3 L862.8 596.0 L862.2 593.2 L860.7 586.1 L859.8 581.8 L859.2 578.2 L857.7 569.2 L856.2 560.2 L855.3 554.8 L854.7 551.0 L853.2 541.6 L851.7 532.2 L850.8 526.5 L850.2 522.3 L848.7 511.7 L847.2 501.1 L846.3 494.8 L845.7 492.5 L844.2 486.9 L842.7 481.2 L841.8 477.8 L841.2 476.5 L839.7 473.1 L838.2 469.7 L837.4 467.9 L836.7 467.2 L835.2 465.7 L833.7 464.2 L832.9 463.4 L832.2 464.2 L830.7 465.9 L829.2 467.7 L827.7 469.4 L826.2 471.1 L824.7 472.9 L823.9 473.8 L823.2 475.2 L821.7 478.2 L820.2 481.2 L818.7 484.2 L817.9 485.8 L817.2 488.0 L815.7 492.6 L814.2 497.3 L813.4 499.8 L812.7 501.4 L811.9 503.1 L811.2 504.2 L809.7 506.5 L808.2 508.8 L807.4 510.0 L806.7 511.1 L805.2 513.4 L803.7 515.6 L802.2 517.9 L801.5 519.0 L800.7 518.7 L799.2 518.3 L797.7 517.8Z" fill="#fb00fb" fill-opacity="0.31"/>
<path d="M797.7 483.8 L801.5 487.0 L807.4 483.5 L811.9 481.5 L813.4 479.8 L817.9 470.8 L823.9 452.8 L832.9 436.4 L837.4 440.9 L841.8 452.8 L846.3 467.8 L850.8 498.5 L855.3 536.8 L859.8 563.8 L862.8 578.0 L866.5 574.2 L871.8 554.8 L876.2 535.3 L880.7 512.9 L885.2 493.5 L889.3 479.5 L895.7 455.8 L901.7 440.9 L906.2 427.4 L912.2 403.5 L918.1 390.0 L924.3 379.0 L928.6 390.0 L934.6 405.5 L940.6 434.9 L948.1 461.8 L954.0 476.8 L959.3 485.0 L968.2 479.8 L978.0 479.0 L985.0 479.8 L991.7 476.0 L999.9 478.3 L1005.9 481.2 L1013.4 487.2 L1022.4 492.5 L1029.8 496.2 L1035.8 497.4 L1042.6 498.5 L1047.8 494.7 L1052.3 494.0 L1056.0 497.7 L1059.8 496.2 L1064.2 495.9 L1070.2 492.5 L1074.7 492.9 L1083.7 495.5 L1095.7 497.0 L1100.9 494.0 L1109.1 497.4 L1113.6 496.2 L1121.1 495.5 L1126.3 491.4 L1133.0 492.9 L1139.8 492.0 L1146.5 489.9 L1152.5 488.4 L1160.7 489.7 L1166.2 485.0 L1170.7 483.0 L1175.1 486.5 L1180.4 486.5 L1187.9 485.7 L1192.3 480.5 L1196.8 485.0 L1202.8 486.9 L1210.3 485.7 L1214.8 482.0 L1218.5 479.5 L1223.5 486.9 L1227.5 486.9 L1232.0 484.5 L1236.5 486.9 L1241.7 485.7 L1249.9 479.8 L1258.2 479.5 L1266.4 477.1 L1271.6 479.0 L1276.9 478.0 L1280.6 480.5 L1288.8 474.1 L1297.1 476.8 L1305.3 475.0 L1310.5 478.3 L1315.8 480.5" stroke="#e614e2" stroke-width="2.2" fill="none" stroke-linejoin="round"/>
<path d="M271.4 580.3h24.4M283.6 568.1v24.4M276.2 572.9l14.8 14.8M276.2 587.7l14.8 -14.8M275.8 580.3h24.4M288.0 568.1v24.4M280.6 572.9l14.8 14.8M280.6 587.7l14.8 -14.8M280.2 580.3h24.4M292.4 568.1v24.4M285.0 572.9l14.8 14.8M285.0 587.7l14.8 -14.8M284.6 580.3h24.4M296.8 568.1v24.4M289.4 572.9l14.8 14.8M289.4 587.7l14.8 -14.8M289.0 580.3h24.4M301.2 568.1v24.4M293.8 572.9l14.8 14.8M293.8 587.7l14.8 -14.8M293.4 580.3h24.4M305.6 568.1v24.4M298.2 572.9l14.8 14.8M298.2 587.7l14.8 -14.8M297.8 580.3h24.4M310.0 568.1v24.4M302.6 572.9l14.8 14.8M302.6 587.7l14.8 -14.8M302.2 580.3h24.4M314.4 568.1v24.4M307.0 572.9l14.8 14.8M307.0 587.7l14.8 -14.8M306.6 580.3h24.4M318.8 568.1v24.4M311.4 572.9l14.8 14.8M311.4 587.7l14.8 -14.8M311.0 580.3h24.4M323.2 568.1v24.4M315.8 572.9l14.8 14.8M315.8 587.7l14.8 -14.8M315.4 580.3h24.4M327.6 568.1v24.4M320.2 572.9l14.8 14.8M320.2 587.7l14.8 -14.8M319.8 580.3h24.4M332.0 568.1v24.4M324.6 572.9l14.8 14.8M324.6 587.7l14.8 -14.8M921.1 580.3h24.4M933.3 568.1v24.4M925.9 572.9l14.8 14.8M925.9 587.7l14.8 -14.8M925.5 580.3h24.4M937.7 568.1v24.4M930.3 572.9l14.8 14.8M930.3 587.7l14.8 -14.8M929.9 580.3h24.4M942.1 568.1v24.4M934.7 572.9l14.8 14.8M934.7 587.7l14.8 -14.8M934.3 580.3h24.4M946.5 568.1v24.4M939.1 572.9l14.8 14.8M939.1 587.7l14.8 -14.8M938.7 580.3h24.4M950.9 568.1v24.4M943.5 572.9l14.8 14.8M943.5 587.7l14.8 -14.8M943.1 580.3h24.4M955.3 568.1v24.4M947.9 572.9l14.8 14.8M947.9 587.7l14.8 -14.8M947.5 580.3h24.4M959.7 568.1v24.4M952.3 572.9l14.8 14.8M952.3 587.7l14.8 -14.8M951.9 580.3h24.4M964.1 568.1v24.4M956.7 572.9l14.8 14.8M956.7 587.7l14.8 -14.8M956.3 580.3h24.4M968.5 568.1v24.4M961.1 572.9l14.8 14.8M961.1 587.7l14.8 -14.8M960.7 580.3h24.4M972.9 568.1v24.4M965.5 572.9l14.8 14.8M965.5 587.7l14.8 -14.8M965.1 580.3h24.4M977.3 568.1v24.4M969.9 572.9l14.8 14.8M969.9 587.7l14.8 -14.8M969.5 580.3h24.4M981.7 568.1v24.4M974.3 572.9l14.8 14.8M974.3 587.7l14.8 -14.8M973.9 580.3h24.4M986.1 568.1v24.4M978.7 572.9l14.8 14.8M978.7 587.7l14.8 -14.8M978.3 580.3h24.4M990.5 568.1v24.4M983.1 572.9l14.8 14.8M983.1 587.7l14.8 -14.8M982.7 580.3h24.4M994.9 568.1v24.4M987.5 572.9l14.8 14.8M987.5 587.7l14.8 -14.8M987.1 580.3h24.4M999.3 568.1v24.4M991.9 572.9l14.8 14.8M991.9 587.7l14.8 -14.8M991.5 580.3h24.4M1003.7 568.1v24.4M996.3 572.9l14.8 14.8M996.3 587.7l14.8 -14.8M995.9 580.3h24.4M1008.1 568.1v24.4M1000.7 572.9l14.8 14.8M1000.7 587.7l14.8 -14.8M1000.3 580.3h24.4M1012.5 568.1v24.4M1005.1 572.9l14.8 14.8M1005.1 587.7l14.8 -14.8M1004.7 580.3h24.4M1016.9 568.1v24.4M1009.5 572.9l14.8 14.8M1009.5 587.7l14.8 -14.8M1009.1 580.3h24.4M1021.3 568.1v24.4M1013.9 572.9l14.8 14.8M1013.9 587.7l14.8 -14.8M1013.5 580.3h24.4M1025.7 568.1v24.4M1018.3 572.9l14.8 14.8M1018.3 587.7l14.8 -14.8M1017.9 580.3h24.4M1030.1 568.1v24.4M1022.7 572.9l14.8 14.8M1022.7 587.7l14.8 -14.8M1022.3 580.3h24.4M1034.5 568.1v24.4M1027.1 572.9l14.8 14.8M1027.1 587.7l14.8 -14.8M1075.1 580.3h24.4M1087.3 568.1v24.4M1079.9 572.9l14.8 14.8M1079.9 587.7l14.8 -14.8M1110.3 580.3h24.4M1122.5 568.1v24.4M1115.1 572.9l14.8 14.8M1115.1 587.7l14.8 -14.8M1123.5 580.3h24.4M1135.7 568.1v24.4M1128.3 572.9l14.8 14.8M1128.3 587.7l14.8 -14.8M1127.9 580.3h24.4M1140.1 568.1v24.4M1132.7 572.9l14.8 14.8M1132.7 587.7l14.8 -14.8M1132.3 580.3h24.4M1144.5 568.1v24.4M1137.1 572.9l14.8 14.8M1137.1 587.7l14.8 -14.8M1136.7 580.3h24.4M1148.9 568.1v24.4M1141.5 572.9l14.8 14.8M1141.5 587.7l14.8 -14.8M1145.5 580.3h24.4M1157.7 568.1v24.4M1150.3 572.9l14.8 14.8M1150.3 587.7l14.8 -14.8M1149.9 580.3h24.4M1162.1 568.1v24.4M1154.7 572.9l14.8 14.8M1154.7 587.7l14.8 -14.8M1167.5 580.3h24.4M1179.7 568.1v24.4M1172.3 572.9l14.8 14.8M1172.3 587.7l14.8 -14.8M1176.3 580.3h24.4M1188.5 568.1v24.4M1181.1 572.9l14.8 14.8M1181.1 587.7l14.8 -14.8M1185.1 580.3h24.4M1197.3 568.1v24.4M1189.9 572.9l14.8 14.8M1189.9 587.7l14.8 -14.8M1189.5 580.3h24.4M1201.7 568.1v24.4M1194.3 572.9l14.8 14.8M1194.3 587.7l14.8 -14.8M1193.9 580.3h24.4M1206.1 568.1v24.4M1198.7 572.9l14.8 14.8M1198.7 587.7l14.8 -14.8M1198.3 580.3h24.4M1210.5 568.1v24.4M1203.1 572.9l14.8 14.8M1203.1 587.7l14.8 -14.8M1202.7 580.3h24.4M1214.9 568.1v24.4M1207.5 572.9l14.8 14.8M1207.5 587.7l14.8 -14.8M1211.5 580.3h24.4M1223.7 568.1v24.4M1216.3 572.9l14.8 14.8M1216.3 587.7l14.8 -14.8M1215.9 580.3h24.4M1228.1 568.1v24.4M1220.7 572.9l14.8 14.8M1220.7 587.7l14.8 -14.8M1220.3 580.3h24.4M1232.5 568.1v24.4M1225.1 572.9l14.8 14.8M1225.1 587.7l14.8 -14.8M1224.7 580.3h24.4M1236.9 568.1v24.4M1229.5 572.9l14.8 14.8M1229.5 587.7l14.8 -14.8M1229.1 580.3h24.4M1241.3 568.1v24.4M1233.9 572.9l14.8 14.8M1233.9 587.7l14.8 -14.8M1233.5 580.3h24.4M1245.7 568.1v24.4M1238.3 572.9l14.8 14.8M1238.3 587.7l14.8 -14.8M1237.9 580.3h24.4M1250.1 568.1v24.4M1242.7 572.9l14.8 14.8M1242.7 587.7l14.8 -14.8M1242.3 580.3h24.4M1254.5 568.1v24.4M1247.1 572.9l14.8 14.8M1247.1 587.7l14.8 -14.8M1246.7 580.3h24.4M1258.9 568.1v24.4M1251.5 572.9l14.8 14.8M1251.5 587.7l14.8 -14.8M1251.1 580.3h24.4M1263.3 568.1v24.4M1255.9 572.9l14.8 14.8M1255.9 587.7l14.8 -14.8M1255.5 580.3h24.4M1267.7 568.1v24.4M1260.3 572.9l14.8 14.8M1260.3 587.7l14.8 -14.8M1259.9 580.3h24.4M1272.1 568.1v24.4M1264.7 572.9l14.8 14.8M1264.7 587.7l14.8 -14.8M1264.3 580.3h24.4M1276.5 568.1v24.4M1269.1 572.9l14.8 14.8M1269.1 587.7l14.8 -14.8M1268.7 580.3h24.4M1280.9 568.1v24.4M1273.5 572.9l14.8 14.8M1273.5 587.7l14.8 -14.8M1273.1 580.3h24.4M1285.3 568.1v24.4M1277.9 572.9l14.8 14.8M1277.9 587.7l14.8 -14.8M1277.5 580.3h24.4M1289.7 568.1v24.4M1282.3 572.9l14.8 14.8M1282.3 587.7l14.8 -14.8M1281.9 580.3h24.4M1294.1 568.1v24.4M1286.7 572.9l14.8 14.8M1286.7 587.7l14.8 -14.8M1286.3 580.3h24.4M1298.5 568.1v24.4M1291.1 572.9l14.8 14.8M1291.1 587.7l14.8 -14.8M1290.7 580.3h24.4M1302.9 568.1v24.4M1295.5 572.9l14.8 14.8M1295.5 587.7l14.8 -14.8M1295.1 580.3h24.4M1307.3 568.1v24.4M1299.9 572.9l14.8 14.8M1299.9 587.7l14.8 -14.8M1299.5 580.3h24.4M1311.7 568.1v24.4M1304.3 572.9l14.8 14.8M1304.3 587.7l14.8 -14.8M1303.9 580.3h24.4M1316.1 568.1v24.4M1308.7 572.9l14.8 14.8M1308.7 587.7l14.8 -14.8" stroke="#868686" stroke-width="2" fill="none"/>
<path d="M293.4 549.1h24.4M305.6 536.9v24.4M298.2 541.7l14.8 14.8M298.2 556.5l14.8 -14.8M297.8 549.1h24.4M310.0 536.9v24.4M302.6 541.7l14.8 14.8M302.6 556.5l14.8 -14.8M929.9 549.1h24.4M942.1 536.9v24.4M934.7 541.7l14.8 14.8M934.7 556.5l14.8 -14.8M934.3 549.1h24.4M946.5 536.9v24.4M939.1 541.7l14.8 14.8M939.1 556.5l14.8 -14.8M938.7 549.1h24.4M950.9 536.9v24.4M943.5 541.7l14.8 14.8M943.5 556.5l14.8 -14.8M943.1 549.1h24.4M955.3 536.9v24.4M947.9 541.7l14.8 14.8M947.9 556.5l14.8 -14.8M947.5 549.1h24.4M959.7 536.9v24.4M952.3 541.7l14.8 14.8M952.3 556.5l14.8 -14.8M951.9 549.1h24.4M964.1 536.9v24.4M956.7 541.7l14.8 14.8M956.7 556.5l14.8 -14.8M956.3 549.1h24.4M968.5 536.9v24.4M961.1 541.7l14.8 14.8M961.1 556.5l14.8 -14.8M960.7 549.1h24.4M972.9 536.9v24.4M965.5 541.7l14.8 14.8M965.5 556.5l14.8 -14.8" stroke="#000" stroke-width="2" fill="none"/>
<path d="M138.6 111.3V675.2M137.6 674.2H671.6M132.1 674.2H138.6M132.1 517.9H138.6M132.1 361.5H138.6M132.1 205.1H138.6M138.6 674.2V681.7M318.8 674.2V681.7M494.6 674.2V681.7M670.6 674.2V681.7" stroke="#303030" stroke-width="2.3" fill="none"/>
<text transform="translate(138.5 714.0) scale(0.962 1)" font-size="44.72" text-anchor="middle" class="t">0</text>
<text transform="translate(314.5 714.0) scale(0.962 1)" font-size="44.72" text-anchor="middle" class="t">10</text>
<text transform="translate(492.9 714.0) scale(0.962 1)" font-size="44.72" text-anchor="middle" class="t">20</text>
<text transform="translate(669.2 714.0) scale(0.962 1)" font-size="44.72" text-anchor="middle" class="t">30</text>
<path d="M783.8 111.3V675.2M782.8 674.2H1316.9M777.3 674.2H783.8M777.3 517.9H783.8M777.3 361.5H783.8M777.3 205.1H783.8M783.8 674.2V681.7M964.1 674.2V681.7M1139.9 674.2V681.7M1315.9 674.2V681.7" stroke="#303030" stroke-width="2.3" fill="none"/>
<text transform="translate(783.1 714.0) scale(0.962 1)" font-size="44.72" text-anchor="middle" class="t">0</text>
<text transform="translate(959.2 714.0) scale(0.962 1)" font-size="44.72" text-anchor="middle" class="t">10</text>
<text transform="translate(1137.4 714.0) scale(0.962 1)" font-size="44.72" text-anchor="middle" class="t">20</text>
<text transform="translate(1314.9 714.0) scale(0.962 1)" font-size="44.72" text-anchor="middle" class="t">30</text>
<text transform="translate(129.3 689.4) scale(0.962 1)" font-size="44.72" text-anchor="end" class="t">50</text>
<text transform="translate(129.3 533.1) scale(0.962 1)" font-size="44.72" text-anchor="end" class="t">100</text>
<text transform="translate(129.3 376.7) scale(0.962 1)" font-size="44.72" text-anchor="end" class="t">150</text>
<text transform="translate(129.3 220.3) scale(0.962 1)" font-size="44.72" text-anchor="end" class="t">200</text>
<rect x="240" y="1.7" width="329.1" height="80.2" fill="#fff" stroke="#161616" stroke-width="2"/>
<rect x="885.6" y="1.7" width="328.7" height="80.5" fill="#fff" stroke="#161616" stroke-width="2"/>
<text transform="translate(405.6 59.8) scale(1.01 1)" font-size="49.80" text-anchor="middle" class="b">frontal</text>
<text transform="translate(1050.6 54.8) scale(1.01 1)" font-size="49.80" text-anchor="middle" class="b">occipital</text>
<text transform="translate(726.6 766.8) scale(0.970873786407767 1)" font-size="43.11" text-anchor="middle" class="t">Frequency (Hz)</text>
<text transform="translate(31.0 393.3) rotate(-90) scale(0.962 1)" font-size="43.47" text-anchor="middle" class="t">EEG spectral power (%)</text>
<path d="M1168 256.1H1203.3" stroke="#808080" stroke-width="5.9"/>
<path d="M1168 308.3H1203.3" stroke="#f000f0" stroke-width="5.9"/>
<text transform="translate(1213.8 271.5) scale(0.962 1)" font-size="44.72" text-anchor="start" class="l">CTR</text>
<text transform="translate(1214.2 324.0) scale(0.962 1)" font-size="44.72" text-anchor="start" class="l">cKO</text>
</svg>
</body></html>
